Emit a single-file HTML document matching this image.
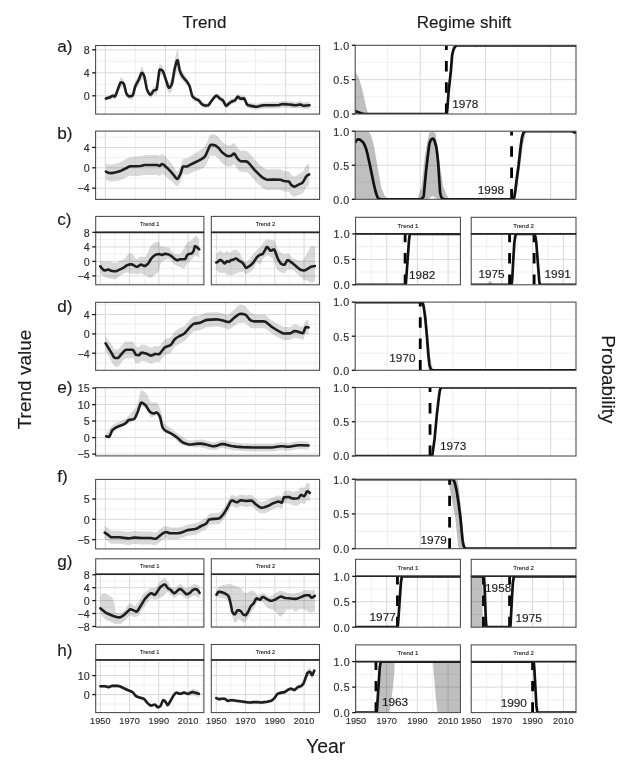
<!DOCTYPE html>
<html><head><meta charset="utf-8"><title>Trend and regime shift</title>
<style>html,body{margin:0;padding:0;background:#fff;}body{width:639px;height:770px;overflow:hidden;}svg{display:block;}</style>
</head><body>
<svg width="639" height="770" viewBox="0 0 639 770" font-family="'Liberation Sans', Arial, sans-serif">
<style>text{stroke:#2a2a2a;stroke-width:0.15px;}</style>
<rect x="0" y="0" width="639" height="770" fill="#fff"/>
<text x="204.5" y="28.3" font-size="17" text-anchor="middle" fill="#1a1a1a">Trend</text>
<text x="464" y="28.4" font-size="17" text-anchor="middle" fill="#1a1a1a">Regime shift</text>
<text x="325.6" y="752.6" font-size="19.4" text-anchor="middle" fill="#1a1a1a">Year</text>
<text transform="translate(31,379.5) rotate(-90)" x="0" y="0" font-size="19" text-anchor="middle" fill="#1a1a1a">Trend value</text>
<text transform="translate(601.9,379.3) rotate(90)" x="0" y="0" font-size="18.9" text-anchor="middle" fill="#1a1a1a">Probability</text>
<text x="57.2" y="51.8" font-size="17.2" fill="#1a1a1a">a)</text>
<text x="57.2" y="138.9" font-size="17.2" fill="#1a1a1a">b)</text>
<text x="57.2" y="225.0" font-size="17.2" fill="#1a1a1a">c)</text>
<text x="57.2" y="311.5" font-size="17.2" fill="#1a1a1a">d)</text>
<text x="57.2" y="393.1" font-size="17.2" fill="#1a1a1a">e)</text>
<text x="57.2" y="481.6" font-size="17.2" fill="#1a1a1a">f)</text>
<text x="57.2" y="567.3" font-size="17.2" fill="#1a1a1a">g)</text>
<text x="57.2" y="655.7" font-size="17.2" fill="#1a1a1a">h)</text>
<rect x="95.6" y="45.5" width="224" height="68.6" fill="#fff"/>
<line x1="135.37" y1="45.5" x2="135.37" y2="114.1" stroke="#e6e6e6" stroke-width="0.6"/>
<line x1="195.51" y1="45.5" x2="195.51" y2="114.1" stroke="#e6e6e6" stroke-width="0.6"/>
<line x1="255.65" y1="45.5" x2="255.65" y2="114.1" stroke="#e6e6e6" stroke-width="0.6"/>
<line x1="315.79" y1="45.5" x2="315.79" y2="114.1" stroke="#e6e6e6" stroke-width="0.6"/>
<line x1="95.6" y1="61.3" x2="319.6" y2="61.3" stroke="#e6e6e6" stroke-width="0.6"/>
<line x1="95.6" y1="84.3" x2="319.6" y2="84.3" stroke="#e6e6e6" stroke-width="0.6"/>
<line x1="95.6" y1="107.3" x2="319.6" y2="107.3" stroke="#e6e6e6" stroke-width="0.6"/>
<line x1="105.3" y1="45.5" x2="105.3" y2="114.1" stroke="#d9d9d9" stroke-width="1.0"/>
<line x1="165.44" y1="45.5" x2="165.44" y2="114.1" stroke="#d9d9d9" stroke-width="1.0"/>
<line x1="225.58" y1="45.5" x2="225.58" y2="114.1" stroke="#d9d9d9" stroke-width="1.0"/>
<line x1="285.72" y1="45.5" x2="285.72" y2="114.1" stroke="#d9d9d9" stroke-width="1.0"/>
<line x1="95.6" y1="49.8" x2="319.6" y2="49.8" stroke="#d9d9d9" stroke-width="1.0"/>
<line x1="95.6" y1="72.8" x2="319.6" y2="72.8" stroke="#d9d9d9" stroke-width="1.0"/>
<line x1="95.6" y1="95.8" x2="319.6" y2="95.8" stroke="#d9d9d9" stroke-width="1.0"/>
<clipPath id="c1"><rect x="95.6" y="45.5" width="224" height="68.6"/></clipPath>
<g clip-path="url(#c1)">
<polygon points="105.9,96.5 110.1,94.8 112.3,93.2 112.8,93.1 114.4,93.4 114.9,93.3 115.5,92.5 119.6,80.0 120.1,78.6 120.7,77.6 121.2,77.1 122.3,78.0 123.3,79.2 123.9,80.3 124.4,82.1 125.9,89.4 126.4,91.3 127.0,92.2 128.2,93.1 128.8,93.3 129.4,93.3 130.6,92.9 132.4,92.0 133.0,90.9 135.4,81.4 136.4,79.0 139.0,73.9 140.8,68.6 141.4,67.1 142.0,66.5 142.5,67.1 143.0,68.2 144.1,70.9 144.6,73.0 146.8,86.2 147.4,88.3 148.6,90.3 149.2,91.0 149.8,91.4 150.4,91.5 151.0,91.1 153.2,87.2 153.7,86.5 156.4,84.9 157.0,83.0 159.2,65.4 159.7,64.0 160.8,64.6 161.9,65.4 162.4,65.9 163.0,66.8 163.5,68.3 165.2,74.3 167.4,80.1 167.9,81.3 168.5,82.1 169.0,82.2 169.6,81.7 170.1,80.9 171.8,77.2 172.4,74.8 174.2,62.7 174.8,59.4 176.4,52.3 176.9,50.6 177.5,49.8 178.0,51.7 179.6,63.2 180.2,66.2 180.7,68.1 181.8,70.4 182.9,72.3 186.8,78.0 189.0,81.7 189.5,83.0 190.1,84.9 191.9,92.2 192.5,93.7 193.5,95.0 195.1,96.3 196.1,96.9 198.8,98.1 199.4,98.6 201.2,101.2 201.8,101.8 203.9,102.8 204.9,103.1 206.0,103.1 208.1,102.8 208.7,102.5 209.2,101.9 210.9,99.2 214.3,94.8 215.4,93.7 216.0,93.4 216.6,93.2 217.1,93.4 217.7,93.8 219.9,96.1 222.6,97.5 223.1,98.1 223.6,99.0 225.2,102.1 225.7,102.7 226.2,103.0 226.8,102.8 229.2,100.5 231.4,99.1 233.1,98.2 234.9,97.6 235.5,97.0 237.3,94.2 237.9,93.8 238.4,94.0 240.1,95.6 240.6,95.8 243.9,95.5 244.5,95.9 245.0,97.0 246.7,101.1 247.2,101.8 249.6,102.7 254.9,103.6 256.6,103.7 257.7,103.6 261.8,102.6 263.5,102.2 273.3,102.1 279.1,101.8 281.7,101.1 282.7,100.9 289.3,101.2 293.9,101.8 296.2,102.0 299.9,101.1 301.0,101.3 302.6,102.0 303.8,102.3 309.5,101.8 309.5,108.7 303.8,109.1 302.6,108.8 301.0,108.1 299.9,107.8 296.2,108.6 293.9,108.4 289.3,107.8 282.7,107.4 281.7,107.5 279.1,108.2 273.3,108.4 263.5,108.4 261.8,108.7 257.7,109.7 256.6,109.7 254.9,109.6 249.6,108.6 247.2,107.6 246.7,107.0 245.0,102.8 244.5,101.7 243.9,101.3 240.6,101.5 240.1,101.3 238.4,99.7 237.9,99.5 237.3,99.8 235.5,102.6 234.9,103.2 233.1,103.8 231.4,104.6 229.2,106.0 226.8,108.2 226.2,108.4 225.7,108.1 225.2,107.4 223.6,104.3 223.1,103.4 222.6,102.8 219.9,101.3 217.7,99.0 217.1,98.5 216.6,98.4 216.0,98.5 215.4,98.8 214.3,99.9 210.9,104.2 209.2,106.8 208.7,107.5 208.1,107.7 206.5,108.0 205.4,108.0 204.4,107.8 203.4,107.4 201.8,106.5 201.2,105.9 199.4,103.3 198.8,102.7 194.6,100.8 193.5,100.1 192.5,99.1 191.9,97.8 190.1,90.8 189.5,89.1 189.0,88.0 187.9,86.3 186.8,84.8 186.2,84.2 184.0,82.4 182.9,81.3 181.8,80.0 180.2,77.6 179.6,76.5 178.6,72.1 178.0,70.6 177.5,70.5 176.9,70.7 176.4,71.7 174.8,77.0 174.2,79.6 172.4,89.6 171.8,91.4 170.7,92.8 170.1,93.2 169.6,93.4 169.0,93.3 168.5,92.5 167.4,89.2 165.7,83.0 163.5,76.6 163.0,75.6 162.4,75.1 160.8,75.0 159.7,75.3 159.2,76.8 158.6,80.2 157.5,89.5 157.0,93.1 156.4,94.6 153.7,94.7 153.2,95.1 151.5,97.2 151.0,97.7 150.4,97.8 149.8,97.4 149.2,96.6 148.0,94.3 146.8,91.6 144.6,81.7 144.1,80.4 143.0,79.2 142.5,79.0 141.4,79.5 140.8,80.5 139.0,84.9 136.4,88.8 135.4,90.6 134.8,92.4 133.6,97.0 133.0,98.9 132.4,99.6 130.6,99.7 129.4,99.4 128.8,99.1 127.6,97.9 127.0,97.1 126.4,96.0 124.4,89.0 123.9,87.7 123.3,87.1 122.8,87.1 121.8,87.2 120.7,87.6 120.1,88.2 119.0,90.5 115.5,99.0 114.9,99.5 113.3,98.7 112.8,98.5 112.3,98.6 110.1,99.8 105.9,100.7" fill="#000" fill-opacity="0.15"/>
<polyline points="105.9,98.6 110.1,97.3 112.3,95.9 112.8,95.8 113.3,95.9 114.9,96.4 115.5,95.7 119.6,84.6 120.1,83.4 120.7,82.6 121.2,82.3 122.3,82.5 123.3,83.1 123.9,84.0 124.4,85.6 125.9,91.9 126.4,93.6 127.0,94.6 128.2,95.9 128.8,96.2 129.4,96.4 130.6,96.3 132.4,95.8 133.0,94.9 133.6,92.9 134.8,87.9 135.4,86.0 136.4,83.9 139.0,79.4 140.8,74.5 141.4,73.3 142.0,72.8 142.5,73.1 143.0,73.7 144.1,75.7 144.6,77.4 146.8,88.9 147.4,90.6 148.6,92.9 149.2,93.8 149.8,94.4 150.4,94.6 151.0,94.4 151.5,93.7 153.2,91.1 153.7,90.6 156.4,89.8 157.0,88.0 159.2,71.1 159.7,69.6 160.8,69.8 161.9,70.2 162.4,70.5 163.0,71.2 164.1,74.1 167.9,86.2 168.5,87.3 169.0,87.8 169.6,87.6 170.1,87.1 171.2,85.4 171.8,84.3 172.4,82.2 174.2,71.1 174.8,68.2 176.4,62.0 176.9,60.7 177.5,60.1 178.0,61.2 179.6,69.8 180.2,71.9 181.3,74.3 182.3,76.0 183.4,77.6 186.8,81.4 189.0,84.9 189.5,86.0 190.1,87.8 191.9,95.0 192.5,96.4 193.5,97.5 194.6,98.3 196.1,99.2 198.8,100.4 199.4,101.0 201.2,103.6 201.8,104.1 203.4,105.0 204.4,105.4 205.4,105.6 206.5,105.5 208.1,105.3 208.7,105.0 209.2,104.4 210.9,101.7 214.3,97.3 215.4,96.2 216.0,95.9 216.6,95.8 217.1,96.0 217.7,96.4 219.9,98.7 222.6,100.1 223.1,100.7 223.6,101.6 225.2,104.7 225.7,105.4 226.2,105.7 226.8,105.5 229.2,103.3 231.4,101.8 233.1,101.0 234.9,100.4 235.5,99.8 237.3,97.0 237.9,96.7 238.4,96.9 240.1,98.5 240.6,98.7 243.9,98.4 244.5,98.8 245.0,99.9 246.7,104.0 247.2,104.7 249.6,105.6 254.9,106.6 256.6,106.7 257.7,106.6 261.8,105.6 263.5,105.3 273.3,105.3 279.1,105.0 281.7,104.3 282.7,104.1 289.3,104.5 293.9,105.1 296.2,105.3 299.9,104.4 301.0,104.7 302.6,105.4 303.8,105.7 309.5,105.3" fill="none" stroke="#1e1e1e" stroke-width="2.6" stroke-linejoin="round" stroke-linecap="round"/>
</g>
<rect x="95.6" y="45.5" width="224" height="68.6" fill="none" stroke="#474747" stroke-width="1.05"/>
<line x1="92.2" y1="49.8" x2="95.6" y2="49.8" stroke="#151515" stroke-width="1.3"/>
<text x="89.6" y="54.1" font-size="10.7" text-anchor="end" fill="#2e2e2e">8</text>
<line x1="92.2" y1="72.8" x2="95.6" y2="72.8" stroke="#151515" stroke-width="1.3"/>
<text x="89.6" y="77.1" font-size="10.7" text-anchor="end" fill="#2e2e2e">4</text>
<line x1="92.2" y1="95.8" x2="95.6" y2="95.8" stroke="#151515" stroke-width="1.3"/>
<text x="89.6" y="100.1" font-size="10.7" text-anchor="end" fill="#2e2e2e">0</text>
<rect x="95.6" y="131.1" width="224" height="68.3" fill="#fff"/>
<line x1="135.37" y1="131.1" x2="135.37" y2="199.4" stroke="#e6e6e6" stroke-width="0.6"/>
<line x1="195.51" y1="131.1" x2="195.51" y2="199.4" stroke="#e6e6e6" stroke-width="0.6"/>
<line x1="255.65" y1="131.1" x2="255.65" y2="199.4" stroke="#e6e6e6" stroke-width="0.6"/>
<line x1="315.79" y1="131.1" x2="315.79" y2="199.4" stroke="#e6e6e6" stroke-width="0.6"/>
<line x1="95.6" y1="137.26" x2="319.6" y2="137.26" stroke="#e6e6e6" stroke-width="0.6"/>
<line x1="95.6" y1="157.62" x2="319.6" y2="157.62" stroke="#e6e6e6" stroke-width="0.6"/>
<line x1="95.6" y1="177.98" x2="319.6" y2="177.98" stroke="#e6e6e6" stroke-width="0.6"/>
<line x1="95.6" y1="198.34" x2="319.6" y2="198.34" stroke="#e6e6e6" stroke-width="0.6"/>
<line x1="105.3" y1="131.1" x2="105.3" y2="199.4" stroke="#d9d9d9" stroke-width="1.0"/>
<line x1="165.44" y1="131.1" x2="165.44" y2="199.4" stroke="#d9d9d9" stroke-width="1.0"/>
<line x1="225.58" y1="131.1" x2="225.58" y2="199.4" stroke="#d9d9d9" stroke-width="1.0"/>
<line x1="285.72" y1="131.1" x2="285.72" y2="199.4" stroke="#d9d9d9" stroke-width="1.0"/>
<line x1="95.6" y1="147.44" x2="319.6" y2="147.44" stroke="#d9d9d9" stroke-width="1.0"/>
<line x1="95.6" y1="167.8" x2="319.6" y2="167.8" stroke="#d9d9d9" stroke-width="1.0"/>
<line x1="95.6" y1="188.16" x2="319.6" y2="188.16" stroke="#d9d9d9" stroke-width="1.0"/>
<clipPath id="c2"><rect x="95.6" y="131.1" width="224" height="68.3"/></clipPath>
<g clip-path="url(#c2)">
<polygon points="105.9,163.4 108.9,164.6 110.1,164.7 112.4,164.4 116.4,163.6 118.8,162.7 121.8,161.5 126.6,158.8 128.9,157.4 130.0,156.9 137.1,156.5 140.5,156.2 141.7,156.0 143.5,155.4 144.7,155.1 157.0,154.9 157.6,155.0 159.2,155.6 159.7,155.8 160.3,155.5 161.3,154.3 161.8,154.0 162.3,154.1 163.4,154.7 166.0,157.1 167.8,159.0 171.4,163.1 176.0,170.5 176.6,171.2 177.2,171.7 177.7,171.5 178.8,169.9 180.5,166.4 182.6,159.4 183.2,158.8 186.8,158.3 187.9,157.9 190.7,155.9 199.2,150.7 202.6,148.5 203.7,147.6 204.8,146.5 205.4,145.7 208.1,139.6 209.7,135.5 210.3,134.6 210.8,134.2 214.5,134.5 215.0,134.6 216.0,135.1 218.6,137.3 221.4,140.9 222.6,142.1 225.4,144.3 227.1,145.2 228.3,145.4 231.0,145.1 231.6,144.8 233.4,143.1 234.0,142.9 234.6,143.2 237.0,147.2 238.6,149.0 239.6,150.0 240.6,150.5 246.3,150.8 246.9,151.0 247.4,151.4 250.2,154.1 254.7,159.6 259.9,164.8 262.9,167.5 265.2,168.7 266.9,169.4 268.6,169.5 274.8,169.3 280.3,169.6 281.3,169.8 283.9,170.9 288.7,171.4 289.3,171.7 290.9,174.3 291.4,174.9 293.1,176.1 294.1,176.5 294.7,176.4 295.8,175.9 298.0,174.4 300.9,173.0 302.6,171.9 303.1,171.2 303.7,170.2 305.9,165.8 307.0,164.7 309.2,163.3 309.2,185.6 307.0,186.7 306.5,187.1 305.9,187.7 303.7,191.8 303.1,192.7 302.6,193.3 300.9,194.2 298.0,195.3 295.8,196.4 294.1,196.8 293.1,196.5 291.4,195.3 290.9,194.7 289.3,192.1 288.7,191.7 283.9,191.2 281.3,190.2 280.3,189.9 273.7,189.7 268.0,190.0 266.3,189.7 264.6,189.0 262.9,188.1 259.3,185.0 254.7,180.5 249.6,174.6 248.0,173.0 246.9,172.2 246.3,172.0 241.2,171.9 240.1,171.7 239.1,171.0 237.0,168.6 235.2,165.4 234.6,164.6 234.0,164.2 233.4,164.5 231.6,166.2 231.0,166.5 228.3,166.8 227.7,166.7 226.6,166.4 224.9,165.3 222.0,163.0 218.6,158.7 216.0,156.5 215.0,156.0 214.5,155.8 211.4,155.6 210.8,155.6 210.3,155.9 209.7,156.7 208.1,160.5 205.9,165.0 204.8,166.7 203.7,167.6 202.6,168.3 199.2,169.8 190.7,173.1 187.9,174.5 186.8,174.7 183.2,174.3 182.6,174.8 180.5,181.4 178.8,184.5 178.3,185.3 177.7,185.8 177.2,186.1 176.6,186.1 176.0,185.7 174.2,183.9 171.4,181.5 168.4,178.5 166.6,176.9 163.4,174.4 162.3,174.0 161.8,174.0 161.3,174.3 160.3,175.7 159.7,176.1 159.2,176.0 157.6,175.2 157.0,175.1 144.7,174.9 143.5,175.1 141.7,175.6 138.8,175.9 135.4,175.9 130.0,175.7 128.9,176.1 126.6,177.2 121.2,179.7 117.0,180.9 113.5,181.3 111.3,181.5 109.5,181.4 108.3,181.0 105.9,179.8" fill="#000" fill-opacity="0.15"/>
<polyline points="105.9,171.6 108.3,172.7 109.5,173.0 110.7,173.1 113.0,172.9 117.0,172.1 121.2,170.7 126.6,168.0 128.9,166.7 130.0,166.3 136.5,166.3 139.9,166.0 141.7,165.8 143.5,165.2 144.7,165.0 157.0,165.0 157.6,165.1 159.2,165.8 159.7,165.9 160.3,165.6 161.3,164.3 161.8,164.0 162.3,164.1 163.4,164.6 167.2,167.9 170.8,171.6 174.2,175.7 176.0,178.1 176.6,178.7 177.2,178.9 177.7,178.7 178.3,178.1 178.8,177.2 180.5,173.9 182.6,167.1 183.2,166.5 186.8,166.5 187.9,166.2 190.7,164.5 199.2,160.3 202.6,158.4 203.7,157.6 204.8,156.6 205.9,154.8 209.7,146.1 210.3,145.2 210.8,144.9 211.4,144.9 214.5,145.1 215.0,145.3 216.0,145.8 218.6,148.0 222.0,152.3 224.9,154.6 226.6,155.7 227.7,156.0 228.3,156.1 231.0,155.8 231.6,155.5 233.4,153.8 234.0,153.5 234.6,153.9 235.2,154.7 237.0,157.9 238.6,159.7 239.6,160.7 240.6,161.2 245.8,161.4 246.9,161.6 248.0,162.4 249.6,164.0 254.7,170.1 259.3,174.7 262.9,177.8 264.6,178.7 266.3,179.4 268.0,179.8 273.7,179.5 280.3,179.8 281.3,180.0 283.9,181.0 288.7,181.5 289.3,181.9 290.9,184.5 291.4,185.1 293.1,186.3 294.1,186.6 294.7,186.6 295.8,186.1 298.0,184.9 300.9,183.6 302.6,182.6 303.1,181.9 303.7,181.0 305.9,176.8 307.0,175.7 309.2,174.4" fill="none" stroke="#1e1e1e" stroke-width="2.6" stroke-linejoin="round" stroke-linecap="round"/>
</g>
<rect x="95.6" y="131.1" width="224" height="68.3" fill="none" stroke="#474747" stroke-width="1.05"/>
<line x1="92.2" y1="147.44" x2="95.6" y2="147.44" stroke="#151515" stroke-width="1.3"/>
<text x="89.6" y="151.74" font-size="10.7" text-anchor="end" fill="#2e2e2e">4</text>
<line x1="92.2" y1="167.8" x2="95.6" y2="167.8" stroke="#151515" stroke-width="1.3"/>
<text x="89.6" y="172.1" font-size="10.7" text-anchor="end" fill="#2e2e2e">0</text>
<line x1="92.2" y1="188.16" x2="95.6" y2="188.16" stroke="#151515" stroke-width="1.3"/>
<text x="89.6" y="192.46" font-size="10.7" text-anchor="end" fill="#2e2e2e">−4</text>
<rect x="95.7" y="216.4" width="108.2" height="16" fill="#fff" stroke="#474747" stroke-width="1.05"/>
<text x="149.8" y="226.22" font-size="5.7" text-anchor="middle" fill="#1a1a1a" style="stroke-width:0.12px">Trend 1</text>
<rect x="95.7" y="232.4" width="108.2" height="52.4" fill="#fff"/>
<line x1="114.93" y1="232.4" x2="114.93" y2="284.8" stroke="#e6e6e6" stroke-width="0.6"/>
<line x1="144.19" y1="232.4" x2="144.19" y2="284.8" stroke="#e6e6e6" stroke-width="0.6"/>
<line x1="173.45" y1="232.4" x2="173.45" y2="284.8" stroke="#e6e6e6" stroke-width="0.6"/>
<line x1="202.71" y1="232.4" x2="202.71" y2="284.8" stroke="#e6e6e6" stroke-width="0.6"/>
<line x1="95.7" y1="239.62" x2="203.9" y2="239.62" stroke="#e6e6e6" stroke-width="0.6"/>
<line x1="95.7" y1="254.14" x2="203.9" y2="254.14" stroke="#e6e6e6" stroke-width="0.6"/>
<line x1="95.7" y1="268.66" x2="203.9" y2="268.66" stroke="#e6e6e6" stroke-width="0.6"/>
<line x1="95.7" y1="283.18" x2="203.9" y2="283.18" stroke="#e6e6e6" stroke-width="0.6"/>
<line x1="100.3" y1="232.4" x2="100.3" y2="284.8" stroke="#d9d9d9" stroke-width="1.0"/>
<line x1="129.56" y1="232.4" x2="129.56" y2="284.8" stroke="#d9d9d9" stroke-width="1.0"/>
<line x1="158.82" y1="232.4" x2="158.82" y2="284.8" stroke="#d9d9d9" stroke-width="1.0"/>
<line x1="188.08" y1="232.4" x2="188.08" y2="284.8" stroke="#d9d9d9" stroke-width="1.0"/>
<line x1="95.7" y1="246.88" x2="203.9" y2="246.88" stroke="#d9d9d9" stroke-width="1.0"/>
<line x1="95.7" y1="261.4" x2="203.9" y2="261.4" stroke="#d9d9d9" stroke-width="1.0"/>
<line x1="95.7" y1="275.92" x2="203.9" y2="275.92" stroke="#d9d9d9" stroke-width="1.0"/>
<clipPath id="c3"><rect x="95.7" y="232.4" width="108.2" height="52.4"/></clipPath>
<g clip-path="url(#c3)">
<polygon points="100.3,260.6 102.8,261.7 104.0,262.0 105.1,262.0 108.3,261.6 109.5,261.6 110.7,261.8 114.1,262.9 114.9,263.0 115.8,262.9 116.9,262.5 119.3,261.2 122.6,259.7 124.3,258.8 125.2,258.0 127.8,254.8 129.6,253.4 130.4,253.1 131.0,253.2 131.8,253.7 133.7,255.5 134.2,256.2 135.6,258.6 136.2,259.1 136.7,259.2 137.3,259.0 139.7,257.0 140.8,256.4 141.7,256.5 143.3,257.3 144.2,257.4 144.7,257.1 145.3,256.6 146.3,255.0 148.0,252.1 149.6,248.0 150.7,246.2 151.8,244.8 153.5,243.3 154.6,242.5 156.0,242.1 158.0,241.8 158.8,241.8 159.1,242.0 160.2,245.2 160.7,246.2 161.8,246.6 163.0,246.8 168.2,247.4 169.3,247.6 170.2,248.5 172.4,252.0 174.2,253.3 175.4,253.9 176.2,254.1 177.6,254.1 179.1,253.9 180.5,253.5 181.0,252.9 181.9,251.6 183.6,248.4 186.0,244.4 187.1,242.9 188.5,241.7 191.2,240.3 192.3,239.5 195.0,236.0 195.5,235.8 196.4,236.1 197.2,237.0 199.2,239.5 199.2,258.3 197.2,256.4 196.4,255.7 195.5,255.5 195.0,255.7 194.4,256.3 192.3,259.2 188.7,262.0 187.6,263.0 186.8,264.2 184.9,267.8 184.4,268.4 183.8,268.7 182.4,268.3 180.5,267.3 177.1,266.0 175.6,265.2 172.7,263.0 170.2,259.9 169.3,259.3 168.5,259.2 167.1,259.4 163.8,260.4 162.1,261.4 160.7,263.0 160.2,264.9 159.1,270.8 158.8,271.5 158.5,271.8 157.7,272.6 155.2,274.3 152.7,276.8 151.0,277.7 149.9,278.0 149.3,277.9 149.1,277.7 147.7,276.1 146.6,275.6 143.9,274.8 142.0,273.6 141.4,273.4 140.3,273.5 137.5,274.2 136.4,274.3 135.9,274.2 133.9,273.4 133.1,273.4 130.7,273.7 130.1,273.7 128.7,272.5 128.4,272.4 127.8,272.3 125.8,272.8 122.9,274.0 119.3,276.3 116.9,278.5 115.8,279.2 114.9,279.4 113.8,279.3 111.8,279.0 108.1,278.2 104.8,277.1 104.0,276.7 103.1,276.0 100.3,273.4" fill="#000" fill-opacity="0.15"/>
<polyline points="100.3,266.3 101.9,268.4 103.5,270.0 104.3,270.4 105.1,270.4 107.3,269.7 108.3,269.6 109.2,269.8 111.1,270.8 113.8,271.3 115.5,271.3 116.9,270.9 122.2,268.4 124.0,267.4 126.9,265.2 129.5,264.4 130.8,264.3 132.5,264.6 133.3,265.0 135.5,266.4 136.6,266.8 137.2,266.8 137.7,266.6 140.0,265.0 140.8,264.6 141.7,264.7 143.6,265.8 144.2,265.9 144.8,266.0 145.3,265.8 146.4,265.1 148.0,263.7 148.9,262.5 150.9,259.0 152.1,257.6 154.1,255.8 155.5,254.8 156.0,254.5 158.0,254.2 159.7,254.1 162.0,255.0 162.6,254.9 164.5,253.8 165.9,253.9 167.5,254.2 168.9,254.6 170.2,255.3 172.1,256.6 174.3,258.6 176.0,259.7 176.8,260.1 177.7,260.1 180.4,259.2 184.9,259.2 185.1,259.1 185.7,258.3 186.8,255.7 187.4,254.8 188.2,254.3 191.3,253.6 192.1,253.0 192.9,252.1 193.5,251.1 194.6,247.1 194.8,246.4 195.1,246.2 195.7,246.3 196.5,246.8 197.8,248.0 199.2,249.4" fill="none" stroke="#1e1e1e" stroke-width="2.6" stroke-linejoin="round" stroke-linecap="round"/>
</g>
<rect x="95.7" y="232.4" width="108.2" height="52.4" fill="none" stroke="#474747" stroke-width="1.05"/>
<line x1="95.7" y1="232.4" x2="203.9" y2="232.4" stroke="#262626" stroke-width="1.6"/>
<line x1="92.3" y1="232.36" x2="95.7" y2="232.36" stroke="#151515" stroke-width="1.3"/>
<text x="89.7" y="236.66" font-size="10.7" text-anchor="end" fill="#2e2e2e">8</text>
<line x1="92.3" y1="246.88" x2="95.7" y2="246.88" stroke="#151515" stroke-width="1.3"/>
<text x="89.7" y="251.18" font-size="10.7" text-anchor="end" fill="#2e2e2e">4</text>
<line x1="92.3" y1="261.4" x2="95.7" y2="261.4" stroke="#151515" stroke-width="1.3"/>
<text x="89.7" y="265.7" font-size="10.7" text-anchor="end" fill="#2e2e2e">0</text>
<line x1="92.3" y1="275.92" x2="95.7" y2="275.92" stroke="#151515" stroke-width="1.3"/>
<text x="89.7" y="280.22" font-size="10.7" text-anchor="end" fill="#2e2e2e">−4</text>
<rect x="211.3" y="216.4" width="108.2" height="16" fill="#fff" stroke="#474747" stroke-width="1.05"/>
<text x="265.4" y="226.22" font-size="5.7" text-anchor="middle" fill="#1a1a1a" style="stroke-width:0.12px">Trend 2</text>
<rect x="211.3" y="232.4" width="108.2" height="52.4" fill="#fff"/>
<line x1="230.93" y1="232.4" x2="230.93" y2="284.8" stroke="#e6e6e6" stroke-width="0.6"/>
<line x1="260.19" y1="232.4" x2="260.19" y2="284.8" stroke="#e6e6e6" stroke-width="0.6"/>
<line x1="289.45" y1="232.4" x2="289.45" y2="284.8" stroke="#e6e6e6" stroke-width="0.6"/>
<line x1="318.71" y1="232.4" x2="318.71" y2="284.8" stroke="#e6e6e6" stroke-width="0.6"/>
<line x1="211.3" y1="239.62" x2="319.5" y2="239.62" stroke="#e6e6e6" stroke-width="0.6"/>
<line x1="211.3" y1="254.14" x2="319.5" y2="254.14" stroke="#e6e6e6" stroke-width="0.6"/>
<line x1="211.3" y1="268.66" x2="319.5" y2="268.66" stroke="#e6e6e6" stroke-width="0.6"/>
<line x1="211.3" y1="283.18" x2="319.5" y2="283.18" stroke="#e6e6e6" stroke-width="0.6"/>
<line x1="216.3" y1="232.4" x2="216.3" y2="284.8" stroke="#d9d9d9" stroke-width="1.0"/>
<line x1="245.56" y1="232.4" x2="245.56" y2="284.8" stroke="#d9d9d9" stroke-width="1.0"/>
<line x1="274.82" y1="232.4" x2="274.82" y2="284.8" stroke="#d9d9d9" stroke-width="1.0"/>
<line x1="304.08" y1="232.4" x2="304.08" y2="284.8" stroke="#d9d9d9" stroke-width="1.0"/>
<line x1="211.3" y1="246.88" x2="319.5" y2="246.88" stroke="#d9d9d9" stroke-width="1.0"/>
<line x1="211.3" y1="261.4" x2="319.5" y2="261.4" stroke="#d9d9d9" stroke-width="1.0"/>
<line x1="211.3" y1="275.92" x2="319.5" y2="275.92" stroke="#d9d9d9" stroke-width="1.0"/>
<clipPath id="c4"><rect x="211.3" y="232.4" width="108.2" height="52.4"/></clipPath>
<g clip-path="url(#c4)">
<polygon points="216.3,254.1 219.1,251.2 220.0,250.6 220.6,250.4 221.1,250.4 221.4,250.6 223.1,252.8 223.6,253.1 224.5,252.8 226.1,251.2 226.7,250.8 227.2,250.9 228.8,252.4 229.1,252.6 229.6,252.7 230.2,252.5 231.1,252.0 234.3,249.7 235.2,249.4 236.0,249.5 237.1,250.1 239.1,252.1 240.0,253.4 242.0,257.4 244.0,260.4 245.2,261.7 245.7,262.0 246.3,262.0 247.3,261.5 249.2,259.8 252.7,254.9 256.3,250.4 257.4,249.4 259.6,248.0 260.5,247.2 262.7,243.6 265.2,240.6 266.1,239.9 266.9,239.5 269.2,239.6 272.6,240.1 273.7,240.6 274.8,241.4 275.4,242.6 276.9,247.3 277.4,248.5 278.6,250.2 279.4,251.2 280.2,252.0 281.7,253.1 283.2,253.9 284.3,254.1 285.2,254.0 287.4,253.2 288.3,253.2 289.2,253.9 291.2,256.8 291.8,257.4 292.6,257.9 294.8,259.0 298.5,260.5 299.9,260.9 301.3,261.1 301.9,260.9 302.4,260.5 304.7,257.5 309.8,248.2 310.9,246.6 311.4,246.2 312.0,246.2 313.2,246.4 315.2,247.0 315.2,280.8 312.9,282.4 312.0,282.7 311.4,282.7 310.6,282.4 307.9,280.8 304.1,279.9 303.2,279.3 301.0,276.8 296.2,273.1 293.4,270.3 292.3,269.7 291.8,269.6 287.7,269.6 286.9,270.4 285.2,272.8 284.6,273.2 284.3,273.3 283.5,273.2 282.6,272.9 279.4,271.4 278.0,270.4 277.2,269.6 276.9,269.1 274.8,263.0 273.4,260.2 272.6,258.9 271.5,257.8 269.8,256.4 268.6,255.8 267.5,255.5 266.9,255.5 266.1,255.9 264.4,257.5 262.7,259.6 261.0,263.1 260.5,263.8 260.2,263.9 259.6,263.9 257.1,263.0 256.6,263.1 256.3,263.3 255.5,264.6 253.8,268.2 253.0,269.6 251.6,271.0 250.1,272.2 248.6,273.2 246.5,274.2 246.0,274.3 245.4,274.0 243.5,271.9 242.9,271.5 242.3,271.5 240.3,271.9 238.3,272.6 235.7,273.7 232.2,274.8 230.2,275.1 228.5,275.1 226.7,274.6 224.7,272.9 223.9,272.4 223.1,272.5 221.1,273.3 220.3,273.2 219.1,272.5 216.3,269.6" fill="#000" fill-opacity="0.15"/>
<polyline points="216.3,262.5 217.8,261.9 219.5,260.3 220.4,260.0 220.9,260.1 221.7,260.7 223.0,261.8 224.1,263.2 224.6,263.5 225.2,263.1 226.7,261.4 227.3,261.3 228.9,261.9 229.4,261.6 230.8,260.2 233.6,259.4 235.5,258.6 236.3,258.5 237.2,259.1 238.8,260.6 241.4,262.0 242.5,262.8 244.1,264.9 245.5,267.4 246.0,267.9 246.5,267.8 249.7,265.9 251.7,264.3 254.0,261.6 256.5,257.7 258.2,256.0 259.6,255.0 261.9,254.3 262.8,253.8 265.2,249.8 266.3,247.5 266.6,247.2 266.9,247.0 267.4,247.2 267.9,247.6 268.9,248.8 270.0,250.4 270.6,250.8 271.4,250.6 273.4,249.5 273.9,249.4 274.2,249.5 274.8,250.5 277.7,258.3 278.6,260.2 280.6,263.2 281.4,263.9 282.6,264.5 283.7,264.8 284.6,264.8 285.1,264.1 287.0,260.5 287.5,260.2 288.1,260.3 289.2,260.8 292.3,263.1 297.8,267.7 300.1,269.5 301.3,270.0 303.8,270.5 304.7,270.4 305.5,270.1 310.8,266.8 312.2,266.5 314.9,266.0" fill="none" stroke="#1e1e1e" stroke-width="2.6" stroke-linejoin="round" stroke-linecap="round"/>
</g>
<rect x="211.3" y="232.4" width="108.2" height="52.4" fill="none" stroke="#474747" stroke-width="1.05"/>
<line x1="211.3" y1="232.4" x2="319.5" y2="232.4" stroke="#262626" stroke-width="1.6"/>
<rect x="95.6" y="302.3" width="224" height="68" fill="#fff"/>
<line x1="135.37" y1="302.3" x2="135.37" y2="370.3" stroke="#e6e6e6" stroke-width="0.6"/>
<line x1="195.51" y1="302.3" x2="195.51" y2="370.3" stroke="#e6e6e6" stroke-width="0.6"/>
<line x1="255.65" y1="302.3" x2="255.65" y2="370.3" stroke="#e6e6e6" stroke-width="0.6"/>
<line x1="315.79" y1="302.3" x2="315.79" y2="370.3" stroke="#e6e6e6" stroke-width="0.6"/>
<line x1="95.6" y1="304.92" x2="319.6" y2="304.92" stroke="#e6e6e6" stroke-width="0.6"/>
<line x1="95.6" y1="324.24" x2="319.6" y2="324.24" stroke="#e6e6e6" stroke-width="0.6"/>
<line x1="95.6" y1="343.56" x2="319.6" y2="343.56" stroke="#e6e6e6" stroke-width="0.6"/>
<line x1="95.6" y1="362.88" x2="319.6" y2="362.88" stroke="#e6e6e6" stroke-width="0.6"/>
<line x1="105.3" y1="302.3" x2="105.3" y2="370.3" stroke="#d9d9d9" stroke-width="1.0"/>
<line x1="165.44" y1="302.3" x2="165.44" y2="370.3" stroke="#d9d9d9" stroke-width="1.0"/>
<line x1="225.58" y1="302.3" x2="225.58" y2="370.3" stroke="#d9d9d9" stroke-width="1.0"/>
<line x1="285.72" y1="302.3" x2="285.72" y2="370.3" stroke="#d9d9d9" stroke-width="1.0"/>
<line x1="95.6" y1="314.58" x2="319.6" y2="314.58" stroke="#d9d9d9" stroke-width="1.0"/>
<line x1="95.6" y1="333.9" x2="319.6" y2="333.9" stroke="#d9d9d9" stroke-width="1.0"/>
<line x1="95.6" y1="353.22" x2="319.6" y2="353.22" stroke="#d9d9d9" stroke-width="1.0"/>
<clipPath id="c5"><rect x="95.6" y="302.3" width="224" height="68"/></clipPath>
<g clip-path="url(#c5)">
<polygon points="105.6,336.1 111.9,345.3 113.5,348.0 114.7,349.2 115.2,349.4 117.6,349.4 118.2,349.3 119.3,348.2 121.0,346.0 123.9,342.9 125.1,341.8 125.7,341.5 126.3,341.4 132.7,341.6 133.2,341.9 133.8,342.8 135.4,346.0 136.0,346.5 137.8,346.9 139.0,347.0 139.6,346.6 140.8,345.0 141.4,344.6 143.6,344.8 145.9,345.3 149.5,347.1 150.7,347.5 151.3,347.6 152.4,347.3 154.7,346.0 155.7,346.0 158.8,346.2 159.4,346.0 159.9,345.5 163.6,340.8 164.6,339.7 165.1,339.3 166.3,338.8 169.7,337.7 170.8,337.0 171.9,335.7 174.0,332.4 175.1,331.1 176.2,330.3 177.9,329.2 179.6,328.3 182.6,326.9 184.4,325.8 186.1,324.1 189.5,320.1 192.3,317.3 193.4,316.5 194.6,316.1 199.7,315.5 201.4,314.8 204.9,313.2 206.1,312.8 207.2,312.6 210.2,312.4 214.5,312.3 217.5,312.3 222.8,313.5 225.7,314.4 227.4,314.6 228.6,314.6 229.2,314.4 230.4,313.6 234.0,309.7 238.2,305.8 239.4,305.0 240.6,304.6 243.2,305.3 244.8,305.9 245.4,306.3 246.6,307.5 249.6,311.8 250.8,312.8 252.0,313.5 253.8,314.3 255.6,314.7 264.1,314.7 265.2,315.0 266.8,316.0 270.7,319.4 275.3,322.5 278.8,324.6 282.2,326.3 283.4,326.7 284.5,326.9 290.2,326.9 291.3,326.3 293.6,324.8 294.7,324.5 296.5,324.8 300.5,326.2 301.7,326.4 302.9,326.4 303.5,325.7 305.3,320.7 305.9,320.0 308.6,320.2 308.6,334.7 305.9,334.0 305.3,334.6 303.5,339.2 302.9,339.8 301.7,339.6 296.5,337.9 294.7,337.7 293.6,338.0 291.3,339.5 290.2,340.0 283.9,340.1 282.8,339.8 281.7,339.3 278.2,337.5 275.9,336.2 270.7,332.7 266.8,329.4 265.2,328.4 264.1,328.2 255.6,328.2 253.8,328.4 251.4,328.0 250.2,327.7 249.6,327.2 246.6,324.0 245.4,323.1 244.8,322.9 243.2,322.8 240.0,322.9 238.8,323.2 237.6,323.8 234.0,326.2 231.0,328.6 229.8,329.3 229.2,329.5 228.6,329.5 227.4,329.2 225.1,328.3 222.8,327.6 219.3,326.8 216.9,326.6 213.3,326.7 206.7,327.3 204.9,327.9 201.4,329.6 199.7,330.3 194.6,331.1 193.4,331.5 192.3,332.4 189.5,335.3 186.1,339.4 184.4,341.1 182.6,342.3 179.0,344.1 175.6,346.2 174.5,347.3 174.0,348.0 171.9,351.3 170.8,352.7 169.7,353.4 166.3,354.5 165.1,355.1 164.6,355.5 163.6,356.6 159.9,361.4 159.4,361.9 158.8,362.1 155.7,362.0 154.7,362.0 152.4,363.3 151.3,363.7 150.7,363.6 149.5,363.2 145.9,361.5 143.6,361.1 141.4,360.9 140.8,361.3 139.6,362.9 139.0,363.3 137.8,363.2 136.0,362.9 135.4,362.4 133.8,359.3 133.2,358.4 132.7,358.1 126.3,358.3 125.7,358.4 125.1,358.7 123.9,359.8 121.0,363.1 119.3,365.4 118.2,366.5 117.6,366.7 115.2,366.7 114.7,366.5 114.1,366.0 113.5,365.1 105.6,350.7" fill="#000" fill-opacity="0.15"/>
<polyline points="105.6,343.4 111.9,353.6 113.5,356.6 114.1,357.3 114.7,357.9 115.2,358.0 117.6,358.0 118.2,357.9 119.3,356.8 121.0,354.6 123.9,351.3 125.1,350.3 125.7,350.0 126.3,349.8 132.7,349.8 133.2,350.2 133.8,351.0 135.4,354.2 136.0,354.7 137.8,355.1 139.0,355.2 139.6,354.8 140.8,353.1 141.4,352.7 143.6,352.9 145.9,353.4 149.5,355.2 150.7,355.6 151.3,355.6 152.4,355.3 154.7,354.0 155.7,354.0 158.8,354.2 159.4,354.0 159.9,353.5 163.6,348.7 164.6,347.6 165.1,347.2 166.3,346.7 169.7,345.5 170.8,344.8 171.9,343.5 174.0,340.2 175.1,338.9 176.2,338.0 177.9,337.0 179.6,336.0 182.6,334.6 184.4,333.5 186.1,331.7 189.5,327.7 192.3,324.8 193.4,324.0 194.6,323.6 199.7,322.9 201.4,322.2 204.9,320.5 206.1,320.1 207.2,319.9 211.4,319.6 216.3,319.4 218.1,319.5 222.8,320.5 226.9,321.8 228.0,322.0 229.2,321.9 229.8,321.7 231.0,320.8 234.0,317.9 238.2,314.7 239.4,314.0 240.6,313.8 243.2,314.0 244.8,314.4 245.4,314.7 246.6,315.8 249.0,318.8 250.2,320.0 250.8,320.4 252.6,321.0 254.4,321.4 264.1,321.4 265.2,321.7 266.8,322.7 270.7,326.1 275.9,329.5 278.2,330.9 281.7,332.7 282.8,333.2 283.9,333.5 290.2,333.4 291.3,332.9 293.6,331.4 294.7,331.1 296.5,331.3 301.1,332.8 302.9,333.1 303.5,332.5 305.3,327.7 305.9,327.0 308.6,327.5" fill="none" stroke="#1e1e1e" stroke-width="2.6" stroke-linejoin="round" stroke-linecap="round"/>
</g>
<rect x="95.6" y="302.3" width="224" height="68" fill="none" stroke="#474747" stroke-width="1.05"/>
<line x1="92.2" y1="314.58" x2="95.6" y2="314.58" stroke="#151515" stroke-width="1.3"/>
<text x="89.6" y="318.88" font-size="10.7" text-anchor="end" fill="#2e2e2e">4</text>
<line x1="92.2" y1="333.9" x2="95.6" y2="333.9" stroke="#151515" stroke-width="1.3"/>
<text x="89.6" y="338.2" font-size="10.7" text-anchor="end" fill="#2e2e2e">0</text>
<line x1="92.2" y1="353.22" x2="95.6" y2="353.22" stroke="#151515" stroke-width="1.3"/>
<text x="89.6" y="357.52" font-size="10.7" text-anchor="end" fill="#2e2e2e">−4</text>
<rect x="95.6" y="387.6" width="224" height="68.3" fill="#fff"/>
<line x1="135.37" y1="387.6" x2="135.37" y2="455.9" stroke="#e6e6e6" stroke-width="0.6"/>
<line x1="195.51" y1="387.6" x2="195.51" y2="455.9" stroke="#e6e6e6" stroke-width="0.6"/>
<line x1="255.65" y1="387.6" x2="255.65" y2="455.9" stroke="#e6e6e6" stroke-width="0.6"/>
<line x1="315.79" y1="387.6" x2="315.79" y2="455.9" stroke="#e6e6e6" stroke-width="0.6"/>
<line x1="95.6" y1="396.35" x2="319.6" y2="396.35" stroke="#e6e6e6" stroke-width="0.6"/>
<line x1="95.6" y1="412.85" x2="319.6" y2="412.85" stroke="#e6e6e6" stroke-width="0.6"/>
<line x1="95.6" y1="429.35" x2="319.6" y2="429.35" stroke="#e6e6e6" stroke-width="0.6"/>
<line x1="95.6" y1="445.85" x2="319.6" y2="445.85" stroke="#e6e6e6" stroke-width="0.6"/>
<line x1="105.3" y1="387.6" x2="105.3" y2="455.9" stroke="#d9d9d9" stroke-width="1.0"/>
<line x1="165.44" y1="387.6" x2="165.44" y2="455.9" stroke="#d9d9d9" stroke-width="1.0"/>
<line x1="225.58" y1="387.6" x2="225.58" y2="455.9" stroke="#d9d9d9" stroke-width="1.0"/>
<line x1="285.72" y1="387.6" x2="285.72" y2="455.9" stroke="#d9d9d9" stroke-width="1.0"/>
<line x1="95.6" y1="388.1" x2="319.6" y2="388.1" stroke="#d9d9d9" stroke-width="1.0"/>
<line x1="95.6" y1="404.6" x2="319.6" y2="404.6" stroke="#d9d9d9" stroke-width="1.0"/>
<line x1="95.6" y1="421.1" x2="319.6" y2="421.1" stroke="#d9d9d9" stroke-width="1.0"/>
<line x1="95.6" y1="437.6" x2="319.6" y2="437.6" stroke="#d9d9d9" stroke-width="1.0"/>
<line x1="95.6" y1="454.1" x2="319.6" y2="454.1" stroke="#d9d9d9" stroke-width="1.0"/>
<clipPath id="c6"><rect x="95.6" y="387.6" width="224" height="68.3"/></clipPath>
<g clip-path="url(#c6)">
<polygon points="106.2,433.7 110.2,427.6 111.4,426.2 112.5,425.1 113.7,424.2 115.5,423.2 122.7,420.2 124.5,419.2 125.7,418.4 127.5,416.9 129.2,415.2 134.9,408.8 136.6,406.2 137.2,404.7 140.2,392.2 140.8,390.7 141.4,390.1 142.5,390.3 143.7,391.0 146.5,393.7 147.1,394.6 147.7,395.8 149.5,400.2 150.1,401.5 150.7,402.3 151.3,402.6 156.4,402.6 157.0,402.8 157.5,403.3 158.7,405.2 160.3,408.9 161.4,412.5 162.9,419.8 163.4,421.6 163.9,422.8 165.1,424.1 166.8,425.5 169.7,427.3 176.5,432.4 181.6,435.9 185.1,438.4 186.9,439.5 188.6,440.3 189.8,440.5 191.5,440.5 198.3,439.7 201.2,439.6 204.1,440.1 210.6,441.8 212.4,442.1 214.2,442.2 215.4,442.1 216.6,441.8 220.8,440.3 222.0,440.1 223.2,440.1 225.5,440.4 231.3,442.0 235.9,442.6 242.2,443.2 253.3,443.5 271.9,443.5 273.7,443.4 278.5,442.5 280.9,442.2 282.7,442.3 286.9,442.9 289.3,442.8 296.3,441.6 298.7,441.3 302.2,441.3 308.6,441.6 308.6,449.5 302.2,449.2 298.7,449.2 296.3,449.5 289.3,450.7 286.9,450.8 282.7,450.2 280.9,450.2 278.5,450.4 273.7,451.3 271.9,451.4 249.8,451.4 241.0,451.0 234.2,450.4 231.3,449.9 225.5,448.4 223.2,448.0 222.0,448.0 220.8,448.2 216.6,449.7 215.4,450.0 214.2,450.1 213.0,450.1 210.0,449.7 203.6,448.1 201.2,447.6 191.0,446.9 189.2,446.7 186.9,446.2 182.8,444.9 180.5,443.9 179.3,443.2 177.1,441.2 172.5,436.1 170.8,434.4 169.1,433.2 165.7,431.4 163.9,430.0 163.4,429.4 162.4,427.8 160.3,423.7 159.8,422.5 158.1,417.7 157.5,416.4 157.0,415.5 156.4,415.2 155.9,415.2 154.7,415.8 152.4,417.3 151.3,417.6 150.7,417.3 150.1,416.5 149.5,415.2 147.7,410.8 147.1,409.6 146.5,408.9 144.8,407.6 143.7,406.9 142.5,406.4 141.4,406.2 140.8,406.6 140.2,407.7 137.2,416.5 136.6,417.6 136.0,418.4 134.3,420.1 133.2,421.0 131.5,422.1 125.7,424.8 120.9,427.2 117.3,429.2 114.9,430.6 112.5,432.3 111.4,433.3 106.2,438.8" fill="#000" fill-opacity="0.15"/>
<polyline points="106.2,436.3 108.4,436.9 108.9,436.9 109.4,436.6 109.9,435.8 112.0,430.8 112.5,430.0 113.1,429.5 114.8,428.2 118.2,426.4 122.8,424.8 125.1,423.7 126.2,422.8 127.7,420.9 128.8,420.1 129.9,419.8 133.3,419.3 133.9,419.1 134.4,418.7 135.4,417.1 137.5,412.5 138.0,411.1 140.3,404.1 140.8,403.0 141.4,402.6 141.9,402.7 143.1,403.2 144.7,404.5 145.8,405.5 149.0,410.7 149.6,411.4 150.7,412.3 152.5,413.3 153.7,413.5 154.3,413.4 155.9,412.6 156.4,412.5 157.0,412.7 158.1,413.6 159.7,416.2 160.3,417.9 162.1,426.0 162.7,427.7 163.8,429.1 164.8,430.2 166.3,431.3 170.8,433.4 174.8,435.9 177.1,437.5 181.2,441.2 182.9,442.5 184.1,443.1 187.0,444.0 189.2,444.5 191.0,444.5 198.3,443.6 201.2,443.6 204.1,444.1 210.6,445.8 212.4,446.1 214.2,446.2 216.0,445.9 220.8,444.3 222.0,444.1 223.2,444.1 225.5,444.4 231.3,446.0 235.9,446.6 242.2,447.1 252.7,447.5 271.9,447.5 273.7,447.3 278.5,446.5 280.9,446.2 282.7,446.2 286.9,446.8 289.3,446.7 296.3,445.5 298.7,445.2 302.2,445.2 308.6,445.5" fill="none" stroke="#1e1e1e" stroke-width="2.6" stroke-linejoin="round" stroke-linecap="round"/>
</g>
<rect x="95.6" y="387.6" width="224" height="68.3" fill="none" stroke="#474747" stroke-width="1.05"/>
<line x1="92.2" y1="388.1" x2="95.6" y2="388.1" stroke="#151515" stroke-width="1.3"/>
<text x="89.6" y="392.4" font-size="10.7" text-anchor="end" fill="#2e2e2e">15</text>
<line x1="92.2" y1="404.6" x2="95.6" y2="404.6" stroke="#151515" stroke-width="1.3"/>
<text x="89.6" y="408.9" font-size="10.7" text-anchor="end" fill="#2e2e2e">10</text>
<line x1="92.2" y1="421.1" x2="95.6" y2="421.1" stroke="#151515" stroke-width="1.3"/>
<text x="89.6" y="425.4" font-size="10.7" text-anchor="end" fill="#2e2e2e">5</text>
<line x1="92.2" y1="437.6" x2="95.6" y2="437.6" stroke="#151515" stroke-width="1.3"/>
<text x="89.6" y="441.9" font-size="10.7" text-anchor="end" fill="#2e2e2e">0</text>
<line x1="92.2" y1="454.1" x2="95.6" y2="454.1" stroke="#151515" stroke-width="1.3"/>
<text x="89.6" y="458.4" font-size="10.7" text-anchor="end" fill="#2e2e2e">−5</text>
<rect x="95.6" y="479.4" width="224" height="69.5" fill="#fff"/>
<line x1="135.37" y1="479.4" x2="135.37" y2="548.9" stroke="#e6e6e6" stroke-width="0.6"/>
<line x1="195.51" y1="479.4" x2="195.51" y2="548.9" stroke="#e6e6e6" stroke-width="0.6"/>
<line x1="255.65" y1="479.4" x2="255.65" y2="548.9" stroke="#e6e6e6" stroke-width="0.6"/>
<line x1="315.79" y1="479.4" x2="315.79" y2="548.9" stroke="#e6e6e6" stroke-width="0.6"/>
<line x1="95.6" y1="488.85" x2="319.6" y2="488.85" stroke="#e6e6e6" stroke-width="0.6"/>
<line x1="95.6" y1="509.15" x2="319.6" y2="509.15" stroke="#e6e6e6" stroke-width="0.6"/>
<line x1="95.6" y1="529.45" x2="319.6" y2="529.45" stroke="#e6e6e6" stroke-width="0.6"/>
<line x1="105.3" y1="479.4" x2="105.3" y2="548.9" stroke="#d9d9d9" stroke-width="1.0"/>
<line x1="165.44" y1="479.4" x2="165.44" y2="548.9" stroke="#d9d9d9" stroke-width="1.0"/>
<line x1="225.58" y1="479.4" x2="225.58" y2="548.9" stroke="#d9d9d9" stroke-width="1.0"/>
<line x1="285.72" y1="479.4" x2="285.72" y2="548.9" stroke="#d9d9d9" stroke-width="1.0"/>
<line x1="95.6" y1="499" x2="319.6" y2="499" stroke="#d9d9d9" stroke-width="1.0"/>
<line x1="95.6" y1="519.3" x2="319.6" y2="519.3" stroke="#d9d9d9" stroke-width="1.0"/>
<line x1="95.6" y1="539.6" x2="319.6" y2="539.6" stroke="#d9d9d9" stroke-width="1.0"/>
<clipPath id="c7"><rect x="95.6" y="479.4" width="224" height="69.5"/></clipPath>
<g clip-path="url(#c7)">
<polygon points="104.7,526.1 107.7,528.1 110.3,530.3 111.3,530.7 119.2,530.7 128.2,531.9 129.9,531.8 133.9,531.1 135.6,531.1 142.0,531.5 150.7,531.5 154.6,532.3 155.8,532.3 156.9,531.7 163.1,526.9 164.2,526.4 165.2,526.2 166.2,526.0 167.2,526.1 169.6,527.2 170.3,527.4 177.7,527.5 180.0,527.2 182.9,526.4 186.6,524.7 187.7,524.4 194.1,523.6 195.8,523.2 197.6,522.4 201.2,520.4 204.1,519.0 205.8,518.1 206.3,517.7 206.9,517.0 208.7,514.3 209.3,513.8 211.4,513.4 217.5,512.9 219.2,512.6 219.8,512.3 220.9,511.4 222.6,509.6 223.6,508.2 227.4,502.1 230.2,496.4 230.8,495.6 231.3,495.1 231.9,494.9 233.0,495.1 235.9,496.3 237.0,496.5 237.6,496.4 238.1,496.1 239.8,494.8 240.4,494.5 240.9,494.4 246.0,495.2 250.6,494.8 251.7,494.9 252.8,495.6 255.7,498.4 259.1,500.9 260.8,501.7 262.6,501.7 265.0,501.1 267.9,500.1 271.9,497.8 275.4,496.3 277.1,495.8 278.8,495.5 279.4,495.6 281.2,496.5 281.8,496.6 282.3,495.8 283.4,492.2 283.9,491.3 287.5,490.7 289.3,490.6 291.9,491.6 292.9,491.7 295.8,491.3 298.0,490.8 298.7,490.3 300.5,487.6 301.1,487.2 301.7,487.2 303.5,488.0 304.1,488.0 304.6,487.6 306.3,484.1 306.8,483.1 307.4,482.7 308.0,482.8 309.8,484.0 309.8,501.8 308.0,500.2 307.4,499.9 306.8,500.2 306.3,501.0 305.2,503.2 304.6,504.0 304.1,504.3 303.5,504.1 301.7,502.9 301.1,502.7 300.5,502.9 298.7,505.3 298.0,505.6 295.8,505.6 292.9,505.5 291.9,505.1 289.8,503.8 288.7,503.4 285.7,503.2 283.9,503.5 283.4,504.3 282.3,507.9 281.8,508.7 281.2,508.6 279.4,507.7 278.8,507.6 277.1,507.8 275.4,508.4 271.9,509.8 267.9,512.1 264.4,513.2 262.0,513.6 260.8,513.5 259.1,512.7 255.7,510.1 252.8,507.3 251.7,506.6 250.6,506.5 246.0,506.9 240.9,506.0 240.4,506.1 239.8,506.4 238.1,507.6 237.6,507.9 237.0,508.0 235.9,507.8 233.0,506.6 231.9,506.4 231.3,506.5 230.8,507.1 230.2,507.9 227.4,513.5 223.6,519.6 222.6,520.9 220.9,522.7 219.8,523.7 219.2,524.0 217.5,524.3 211.4,524.8 209.3,525.2 208.7,525.6 206.9,528.4 206.3,529.0 205.8,529.5 204.1,530.4 201.2,531.7 197.0,534.1 195.2,534.7 187.7,535.7 186.6,536.1 183.4,537.6 179.4,538.7 177.7,539.1 170.3,539.3 169.6,539.3 167.2,538.3 166.6,538.2 165.7,538.3 164.2,538.7 162.5,539.7 159.7,542.2 156.9,544.5 155.8,545.1 155.2,545.2 153.5,545.1 150.7,544.5 142.0,544.5 135.6,544.1 133.9,544.1 129.9,544.8 128.2,544.9 119.2,543.7 111.3,543.7 110.3,543.3 107.7,541.1 104.7,539.1" fill="#000" fill-opacity="0.15"/>
<polyline points="104.7,532.6 107.7,534.6 110.3,536.8 111.3,537.2 119.2,537.2 128.2,538.4 129.9,538.3 133.9,537.6 135.6,537.6 142.0,538.0 150.7,538.0 154.1,538.7 155.2,538.8 155.8,538.7 156.3,538.5 157.4,537.7 162.5,533.5 164.2,532.6 165.7,532.2 166.6,532.1 167.2,532.2 169.6,533.3 170.3,533.3 177.7,533.3 180.0,532.9 182.9,532.1 186.6,530.4 187.7,530.1 195.2,529.0 197.0,528.4 201.2,526.0 204.1,524.7 205.8,523.8 206.3,523.4 206.9,522.7 208.7,519.9 209.3,519.5 211.4,519.1 217.5,518.6 219.2,518.3 219.8,518.0 220.9,517.0 222.6,515.2 223.6,513.9 227.4,507.8 230.2,502.1 230.8,501.3 231.3,500.8 231.9,500.6 233.0,500.8 235.9,502.0 237.0,502.2 237.6,502.1 238.1,501.8 239.8,500.6 240.4,500.3 240.9,500.2 246.0,501.0 250.6,500.6 251.7,500.7 252.8,501.4 255.7,504.2 259.1,506.8 260.8,507.6 262.0,507.7 264.4,507.2 267.9,506.1 271.9,503.8 275.4,502.4 277.1,501.8 278.8,501.6 279.4,501.7 281.2,502.5 281.8,502.7 282.3,501.8 283.4,498.3 283.9,497.4 286.9,497.0 289.3,497.0 291.9,498.3 292.9,498.6 295.8,498.5 298.0,498.2 298.7,497.8 300.5,495.3 301.1,494.9 301.7,495.1 303.5,496.0 304.1,496.2 304.6,495.8 305.2,494.9 306.3,492.5 306.8,491.6 307.4,491.3 308.0,491.5 309.8,492.9" fill="none" stroke="#1e1e1e" stroke-width="2.6" stroke-linejoin="round" stroke-linecap="round"/>
</g>
<rect x="95.6" y="479.4" width="224" height="69.5" fill="none" stroke="#474747" stroke-width="1.05"/>
<line x1="92.2" y1="499" x2="95.6" y2="499" stroke="#151515" stroke-width="1.3"/>
<text x="89.6" y="503.3" font-size="10.7" text-anchor="end" fill="#2e2e2e">5</text>
<line x1="92.2" y1="519.3" x2="95.6" y2="519.3" stroke="#151515" stroke-width="1.3"/>
<text x="89.6" y="523.6" font-size="10.7" text-anchor="end" fill="#2e2e2e">0</text>
<line x1="92.2" y1="539.6" x2="95.6" y2="539.6" stroke="#151515" stroke-width="1.3"/>
<text x="89.6" y="543.9" font-size="10.7" text-anchor="end" fill="#2e2e2e">−5</text>
<rect x="95.7" y="558.8" width="108.2" height="15.5" fill="#fff" stroke="#474747" stroke-width="1.05"/>
<text x="149.8" y="568.37" font-size="5.7" text-anchor="middle" fill="#1a1a1a" style="stroke-width:0.12px">Trend 1</text>
<rect x="95.7" y="574.3" width="108.2" height="52.8" fill="#fff"/>
<line x1="114.93" y1="574.3" x2="114.93" y2="627.1" stroke="#e6e6e6" stroke-width="0.6"/>
<line x1="144.19" y1="574.3" x2="144.19" y2="627.1" stroke="#e6e6e6" stroke-width="0.6"/>
<line x1="173.45" y1="574.3" x2="173.45" y2="627.1" stroke="#e6e6e6" stroke-width="0.6"/>
<line x1="202.71" y1="574.3" x2="202.71" y2="627.1" stroke="#e6e6e6" stroke-width="0.6"/>
<line x1="95.7" y1="581.22" x2="203.9" y2="581.22" stroke="#e6e6e6" stroke-width="0.6"/>
<line x1="95.7" y1="594.14" x2="203.9" y2="594.14" stroke="#e6e6e6" stroke-width="0.6"/>
<line x1="95.7" y1="607.06" x2="203.9" y2="607.06" stroke="#e6e6e6" stroke-width="0.6"/>
<line x1="95.7" y1="619.98" x2="203.9" y2="619.98" stroke="#e6e6e6" stroke-width="0.6"/>
<line x1="100.3" y1="574.3" x2="100.3" y2="627.1" stroke="#d9d9d9" stroke-width="1.0"/>
<line x1="129.56" y1="574.3" x2="129.56" y2="627.1" stroke="#d9d9d9" stroke-width="1.0"/>
<line x1="158.82" y1="574.3" x2="158.82" y2="627.1" stroke="#d9d9d9" stroke-width="1.0"/>
<line x1="188.08" y1="574.3" x2="188.08" y2="627.1" stroke="#d9d9d9" stroke-width="1.0"/>
<line x1="95.7" y1="574.76" x2="203.9" y2="574.76" stroke="#d9d9d9" stroke-width="1.0"/>
<line x1="95.7" y1="587.68" x2="203.9" y2="587.68" stroke="#d9d9d9" stroke-width="1.0"/>
<line x1="95.7" y1="600.6" x2="203.9" y2="600.6" stroke="#d9d9d9" stroke-width="1.0"/>
<line x1="95.7" y1="613.52" x2="203.9" y2="613.52" stroke="#d9d9d9" stroke-width="1.0"/>
<line x1="95.7" y1="626.44" x2="203.9" y2="626.44" stroke="#d9d9d9" stroke-width="1.0"/>
<clipPath id="c8"><rect x="95.7" y="574.3" width="108.2" height="52.8"/></clipPath>
<g clip-path="url(#c8)">
<polygon points="100.3,596.1 102.9,593.7 103.8,593.3 104.4,593.2 105.2,593.4 106.4,594.0 110.0,596.1 111.5,597.1 112.3,598.0 112.9,598.9 113.7,601.3 114.5,605.0 115.1,610.8 115.4,612.5 117.3,613.2 119.9,613.4 120.8,613.2 121.7,612.8 123.7,611.3 124.5,610.3 126.9,606.3 129.0,603.9 129.9,603.3 130.4,603.1 131.3,603.4 133.3,605.2 134.1,605.8 135.0,605.9 135.6,605.5 136.4,604.6 138.2,602.4 142.0,596.0 143.7,593.9 145.4,592.1 147.4,590.4 150.4,588.4 151.5,588.1 154.9,588.1 155.7,587.6 156.9,586.3 160.0,581.8 162.8,578.7 164.0,577.9 164.8,577.8 165.7,578.5 168.3,582.3 170.2,585.6 171.0,586.7 171.5,587.1 172.4,587.6 173.8,588.0 174.6,588.1 175.5,587.7 178.6,584.5 179.5,584.0 180.0,583.9 180.6,584.0 181.2,584.3 184.3,587.4 185.2,588.0 185.7,588.1 187.5,587.8 189.8,587.0 190.6,586.4 192.8,584.4 193.9,583.9 194.8,583.9 195.9,584.2 199.6,585.7 199.6,598.4 195.9,596.1 195.1,595.7 194.2,595.6 193.1,595.9 190.6,597.5 189.8,597.9 187.2,598.3 185.5,598.4 184.9,598.2 184.0,597.6 181.5,595.2 180.6,594.8 180.0,594.7 179.5,594.7 178.6,595.1 175.5,597.2 174.6,597.4 174.0,597.4 173.2,597.0 171.3,595.4 169.4,593.0 168.6,592.2 168.0,591.9 167.5,591.9 166.9,592.3 165.1,594.6 164.2,595.3 162.5,596.4 156.6,599.4 155.4,599.7 154.6,599.8 154.0,599.7 152.1,598.4 151.5,598.4 151.0,598.7 149.9,599.8 145.4,605.4 142.0,610.1 139.3,614.6 138.2,615.9 137.6,616.3 136.4,616.8 135.6,617.1 134.7,617.2 133.5,616.9 131.0,615.4 130.4,615.3 129.9,615.5 129.0,616.2 124.0,621.5 121.4,623.5 120.5,624.0 119.9,624.2 114.2,623.7 112.6,622.8 107.8,620.6 105.5,619.2 103.8,617.9 102.6,616.5 100.3,613.4" fill="#000" fill-opacity="0.15"/>
<polyline points="100.3,608.3 104.9,612.1 106.9,613.3 113.2,616.0 116.7,617.0 118.7,617.4 120.2,617.3 121.1,616.9 122.0,616.4 124.8,614.2 129.3,609.9 130.1,609.3 130.7,609.2 131.3,609.4 135.7,611.4 136.3,611.6 136.9,611.5 137.5,611.0 138.0,610.2 144.2,600.1 145.9,597.8 147.4,596.1 149.9,593.8 150.9,593.3 151.5,593.3 152.1,593.5 154.0,594.7 154.6,594.9 155.1,594.6 155.7,594.0 160.2,587.2 162.4,585.5 163.6,584.8 164.4,584.6 165.0,584.5 165.5,584.8 167.7,588.1 170.7,590.0 173.2,592.7 174.0,593.2 174.6,593.2 175.2,592.9 177.0,591.1 178.6,589.7 179.5,589.2 180.0,589.0 180.9,589.3 181.8,589.9 183.5,591.4 185.5,593.6 186.3,594.1 186.9,594.2 187.8,594.0 189.5,593.2 190.4,592.5 192.0,590.6 193.7,589.5 194.8,589.1 195.9,589.2 197.6,590.0 198.4,590.8 199.6,592.8" fill="none" stroke="#1e1e1e" stroke-width="2.6" stroke-linejoin="round" stroke-linecap="round"/>
</g>
<rect x="95.7" y="574.3" width="108.2" height="52.8" fill="none" stroke="#474747" stroke-width="1.05"/>
<line x1="95.7" y1="574.3" x2="203.9" y2="574.3" stroke="#262626" stroke-width="1.6"/>
<line x1="92.3" y1="574.76" x2="95.7" y2="574.76" stroke="#151515" stroke-width="1.3"/>
<text x="89.7" y="579.06" font-size="10.7" text-anchor="end" fill="#2e2e2e">8</text>
<line x1="92.3" y1="587.68" x2="95.7" y2="587.68" stroke="#151515" stroke-width="1.3"/>
<text x="89.7" y="591.98" font-size="10.7" text-anchor="end" fill="#2e2e2e">4</text>
<line x1="92.3" y1="600.6" x2="95.7" y2="600.6" stroke="#151515" stroke-width="1.3"/>
<text x="89.7" y="604.9" font-size="10.7" text-anchor="end" fill="#2e2e2e">0</text>
<line x1="92.3" y1="613.52" x2="95.7" y2="613.52" stroke="#151515" stroke-width="1.3"/>
<text x="89.7" y="617.82" font-size="10.7" text-anchor="end" fill="#2e2e2e">−4</text>
<line x1="92.3" y1="626.44" x2="95.7" y2="626.44" stroke="#151515" stroke-width="1.3"/>
<text x="89.7" y="630.74" font-size="10.7" text-anchor="end" fill="#2e2e2e">−8</text>
<rect x="211.3" y="558.8" width="108.2" height="15.5" fill="#fff" stroke="#474747" stroke-width="1.05"/>
<text x="265.4" y="568.37" font-size="5.7" text-anchor="middle" fill="#1a1a1a" style="stroke-width:0.12px">Trend 2</text>
<rect x="211.3" y="574.3" width="108.2" height="52.8" fill="#fff"/>
<line x1="230.93" y1="574.3" x2="230.93" y2="627.1" stroke="#e6e6e6" stroke-width="0.6"/>
<line x1="260.19" y1="574.3" x2="260.19" y2="627.1" stroke="#e6e6e6" stroke-width="0.6"/>
<line x1="289.45" y1="574.3" x2="289.45" y2="627.1" stroke="#e6e6e6" stroke-width="0.6"/>
<line x1="318.71" y1="574.3" x2="318.71" y2="627.1" stroke="#e6e6e6" stroke-width="0.6"/>
<line x1="211.3" y1="581.22" x2="319.5" y2="581.22" stroke="#e6e6e6" stroke-width="0.6"/>
<line x1="211.3" y1="594.14" x2="319.5" y2="594.14" stroke="#e6e6e6" stroke-width="0.6"/>
<line x1="211.3" y1="607.06" x2="319.5" y2="607.06" stroke="#e6e6e6" stroke-width="0.6"/>
<line x1="211.3" y1="619.98" x2="319.5" y2="619.98" stroke="#e6e6e6" stroke-width="0.6"/>
<line x1="216.3" y1="574.3" x2="216.3" y2="627.1" stroke="#d9d9d9" stroke-width="1.0"/>
<line x1="245.56" y1="574.3" x2="245.56" y2="627.1" stroke="#d9d9d9" stroke-width="1.0"/>
<line x1="274.82" y1="574.3" x2="274.82" y2="627.1" stroke="#d9d9d9" stroke-width="1.0"/>
<line x1="304.08" y1="574.3" x2="304.08" y2="627.1" stroke="#d9d9d9" stroke-width="1.0"/>
<line x1="211.3" y1="574.76" x2="319.5" y2="574.76" stroke="#d9d9d9" stroke-width="1.0"/>
<line x1="211.3" y1="587.68" x2="319.5" y2="587.68" stroke="#d9d9d9" stroke-width="1.0"/>
<line x1="211.3" y1="600.6" x2="319.5" y2="600.6" stroke="#d9d9d9" stroke-width="1.0"/>
<line x1="211.3" y1="613.52" x2="319.5" y2="613.52" stroke="#d9d9d9" stroke-width="1.0"/>
<line x1="211.3" y1="626.44" x2="319.5" y2="626.44" stroke="#d9d9d9" stroke-width="1.0"/>
<clipPath id="c9"><rect x="211.3" y="574.3" width="108.2" height="52.8"/></clipPath>
<g clip-path="url(#c9)">
<polygon points="216.4,590.9 218.3,587.1 219.1,586.2 221.4,585.4 224.8,584.8 227.8,584.0 229.5,583.9 230.6,584.1 237.7,586.7 241.1,588.2 241.9,588.9 243.4,592.3 244.0,592.8 247.6,592.7 248.4,592.3 250.4,590.6 251.0,590.4 251.6,590.5 253.0,590.9 255.1,592.0 257.3,594.9 258.2,595.5 258.7,595.6 259.3,595.3 261.8,593.6 263.0,593.5 264.1,593.8 265.6,594.3 267.4,596.1 267.9,596.5 268.2,596.5 270.2,596.2 273.2,595.0 276.1,592.7 278.1,591.4 279.3,590.7 280.1,590.4 280.7,590.4 281.5,590.7 287.0,592.8 290.0,593.6 291.9,593.7 296.0,593.1 299.1,592.4 301.3,591.8 304.1,590.4 305.3,590.0 306.4,590.0 310.8,590.4 312.3,590.2 314.9,589.5 314.9,611.6 311.7,612.4 310.5,612.5 310.0,612.4 308.9,612.0 306.1,610.3 303.0,609.1 301.3,608.7 300.7,608.8 299.9,609.0 296.8,611.1 296.0,611.5 295.4,611.6 294.6,611.3 292.8,609.8 291.9,609.3 290.3,609.3 288.1,609.5 287.0,609.7 286.4,610.0 285.6,611.0 283.6,614.0 281.5,616.2 281.0,616.6 280.4,616.7 279.8,616.5 279.3,616.0 277.0,612.8 274.4,610.5 272.6,609.6 269.3,608.7 267.9,608.1 266.8,607.1 265.0,605.1 263.3,602.9 262.7,602.3 260.4,601.5 258.4,601.2 257.9,601.5 257.3,602.2 255.1,606.4 250.7,613.0 247.9,618.2 245.6,621.5 244.8,622.5 244.0,622.8 243.4,622.7 239.9,619.5 239.4,619.2 238.8,619.1 238.6,619.1 238.0,619.5 236.1,622.1 235.6,622.6 235.0,622.8 234.5,622.4 233.9,621.4 232.2,616.3 231.7,613.8 230.3,605.2 229.7,602.8 229.5,602.2 228.4,600.9 227.0,599.9 225.6,599.2 222.8,598.2 221.1,597.7 219.4,597.5 218.3,597.5 216.4,598.0" fill="#000" fill-opacity="0.15"/>
<polyline points="216.4,594.7 218.3,592.1 218.8,591.7 219.1,591.7 220.8,591.9 223.4,592.8 225.0,593.5 227.3,594.9 228.4,596.1 229.0,597.2 230.6,603.4 232.0,610.8 232.2,611.6 232.8,612.7 233.7,613.9 234.3,614.3 234.9,614.3 235.4,613.7 237.3,610.5 237.8,610.2 238.4,610.2 239.6,610.4 240.4,610.8 241.0,611.4 242.8,614.1 244.4,615.1 245.4,615.3 245.7,615.3 246.2,614.8 247.1,613.5 248.5,611.1 250.1,607.4 251.0,605.9 253.8,603.1 255.8,599.2 256.4,598.5 256.7,598.4 257.5,598.6 259.1,599.6 259.9,599.8 260.5,599.5 262.1,597.3 262.4,597.1 263.0,597.0 264.1,597.4 266.1,598.7 269.2,600.3 270.3,600.7 271.2,600.8 272.9,600.4 276.0,599.2 279.3,597.1 280.7,596.5 281.8,596.7 284.4,597.7 285.2,598.0 293.4,598.8 295.4,598.9 296.5,598.8 297.7,598.4 301.0,597.1 304.1,595.7 305.9,595.2 307.5,595.2 309.5,595.4 310.0,595.9 310.9,597.2 311.4,597.7 312.2,597.5 313.3,597.0 314.9,595.8" fill="none" stroke="#1e1e1e" stroke-width="2.6" stroke-linejoin="round" stroke-linecap="round"/>
</g>
<rect x="211.3" y="574.3" width="108.2" height="52.8" fill="none" stroke="#474747" stroke-width="1.05"/>
<line x1="211.3" y1="574.3" x2="319.5" y2="574.3" stroke="#262626" stroke-width="1.6"/>
<rect x="95.7" y="644.5" width="108.2" height="15.5" fill="#fff" stroke="#474747" stroke-width="1.05"/>
<text x="149.8" y="654.07" font-size="5.7" text-anchor="middle" fill="#1a1a1a" style="stroke-width:0.12px">Trend 1</text>
<rect x="95.7" y="660" width="108.2" height="52.6" fill="#fff"/>
<line x1="114.93" y1="660" x2="114.93" y2="712.6" stroke="#e6e6e6" stroke-width="0.6"/>
<line x1="144.19" y1="660" x2="144.19" y2="712.6" stroke="#e6e6e6" stroke-width="0.6"/>
<line x1="173.45" y1="660" x2="173.45" y2="712.6" stroke="#e6e6e6" stroke-width="0.6"/>
<line x1="202.71" y1="660" x2="202.71" y2="712.6" stroke="#e6e6e6" stroke-width="0.6"/>
<line x1="95.7" y1="666.1" x2="203.9" y2="666.1" stroke="#e6e6e6" stroke-width="0.6"/>
<line x1="95.7" y1="685.1" x2="203.9" y2="685.1" stroke="#e6e6e6" stroke-width="0.6"/>
<line x1="95.7" y1="704.1" x2="203.9" y2="704.1" stroke="#e6e6e6" stroke-width="0.6"/>
<line x1="100.3" y1="660" x2="100.3" y2="712.6" stroke="#d9d9d9" stroke-width="1.0"/>
<line x1="129.56" y1="660" x2="129.56" y2="712.6" stroke="#d9d9d9" stroke-width="1.0"/>
<line x1="158.82" y1="660" x2="158.82" y2="712.6" stroke="#d9d9d9" stroke-width="1.0"/>
<line x1="188.08" y1="660" x2="188.08" y2="712.6" stroke="#d9d9d9" stroke-width="1.0"/>
<line x1="95.7" y1="675.6" x2="203.9" y2="675.6" stroke="#d9d9d9" stroke-width="1.0"/>
<line x1="95.7" y1="694.6" x2="203.9" y2="694.6" stroke="#d9d9d9" stroke-width="1.0"/>
<clipPath id="c10"><rect x="95.7" y="660" width="108.2" height="52.6"/></clipPath>
<g clip-path="url(#c10)">
<polygon points="100.4,684.8 105.3,684.8 107.8,685.5 108.6,685.6 109.5,685.4 111.6,684.5 112.4,684.3 117.7,684.3 119.7,684.8 123.4,686.4 127.5,688.5 130.8,689.8 132.5,690.6 133.4,691.4 135.4,694.0 136.3,694.8 137.9,695.5 142.9,696.9 144.0,697.4 144.9,698.3 147.3,701.4 149.2,703.0 150.3,703.8 151.1,704.1 151.6,704.1 154.2,703.3 155.0,703.1 155.6,703.5 157.1,705.3 157.6,705.6 159.0,705.4 160.1,704.9 160.4,704.6 161.0,703.5 162.5,699.6 163.1,698.7 163.4,698.6 163.9,698.7 164.7,699.4 166.1,701.0 167.3,703.4 167.6,703.5 167.9,703.4 168.7,702.4 173.3,694.4 175.3,691.8 176.1,691.1 177.0,691.2 179.3,692.2 180.2,692.3 181.0,692.2 182.7,691.4 183.6,691.1 184.4,691.2 186.6,691.7 187.4,691.7 188.5,691.3 191.4,689.2 192.6,688.7 194.2,689.0 198.9,690.4 198.9,697.3 194.2,695.8 193.2,695.6 191.7,695.5 188.8,696.1 187.6,696.0 186.8,695.6 185.2,694.5 184.1,694.1 183.3,694.2 181.0,695.2 180.2,695.4 179.3,695.2 177.0,694.2 176.1,694.2 175.3,694.8 173.3,697.4 168.7,705.5 167.9,706.5 167.6,706.6 167.3,706.4 166.1,704.1 164.7,702.5 163.9,701.8 163.4,701.6 163.1,701.8 162.5,702.7 161.0,706.5 160.4,707.6 160.1,707.9 159.0,708.4 157.6,708.7 157.1,708.3 155.6,706.5 155.0,706.2 154.2,706.3 151.6,707.1 151.1,707.1 150.3,706.8 149.2,706.1 147.3,704.4 144.9,701.4 144.0,700.5 142.9,700.0 137.9,698.5 136.3,697.8 135.4,697.1 133.4,694.5 132.5,693.6 130.8,692.8 127.5,691.6 123.4,689.5 119.7,687.9 117.7,687.4 112.4,687.4 111.6,687.5 109.5,688.4 108.6,688.6 107.8,688.5 105.3,687.9 100.4,687.9" fill="#000" fill-opacity="0.15"/>
<polyline points="100.4,686.3 105.3,686.3 107.8,687.0 108.6,687.1 109.5,686.9 111.6,686.0 112.4,685.9 117.7,685.9 119.7,686.3 123.4,688.0 127.5,690.0 130.8,691.3 132.5,692.1 133.4,692.9 135.4,695.6 136.3,696.3 137.9,697.0 142.9,698.4 144.0,699.0 144.9,699.8 147.3,702.9 149.2,704.6 150.3,705.3 151.1,705.6 151.6,705.6 154.2,704.8 155.0,704.7 155.6,705.0 157.1,706.8 157.6,707.1 159.0,706.9 160.1,706.4 160.4,706.1 161.0,705.0 162.5,701.2 163.1,700.2 163.4,700.1 163.9,700.3 164.7,700.9 166.1,702.6 167.3,704.9 167.6,705.1 167.9,705.0 168.7,704.0 173.3,695.9 175.3,693.3 176.1,692.7 177.0,692.7 179.3,693.7 180.2,693.8 181.0,693.7 183.3,692.7 184.1,692.6 184.9,692.8 186.8,693.7 187.6,693.8 188.8,693.6 191.7,692.3 192.9,692.1 194.2,692.4 198.9,693.8" fill="none" stroke="#1e1e1e" stroke-width="2.6" stroke-linejoin="round" stroke-linecap="round"/>
</g>
<rect x="95.7" y="660" width="108.2" height="52.6" fill="none" stroke="#474747" stroke-width="1.05"/>
<line x1="95.7" y1="660" x2="203.9" y2="660" stroke="#262626" stroke-width="1.6"/>
<line x1="92.3" y1="675.6" x2="95.7" y2="675.6" stroke="#151515" stroke-width="1.3"/>
<text x="89.7" y="679.9" font-size="10.7" text-anchor="end" fill="#2e2e2e">10</text>
<line x1="92.3" y1="694.6" x2="95.7" y2="694.6" stroke="#151515" stroke-width="1.3"/>
<text x="89.7" y="698.9" font-size="10.7" text-anchor="end" fill="#2e2e2e">0</text>
<text x="100.3" y="723.8" font-size="9.2" text-anchor="middle" fill="#2e2e2e">1950</text>
<text x="129.56" y="723.8" font-size="9.2" text-anchor="middle" fill="#2e2e2e">1970</text>
<text x="158.82" y="723.8" font-size="9.2" text-anchor="middle" fill="#2e2e2e">1990</text>
<text x="188.08" y="723.8" font-size="9.2" text-anchor="middle" fill="#2e2e2e">2010</text>
<rect x="211.3" y="644.5" width="108.2" height="15.5" fill="#fff" stroke="#474747" stroke-width="1.05"/>
<text x="265.4" y="654.07" font-size="5.7" text-anchor="middle" fill="#1a1a1a" style="stroke-width:0.12px">Trend 2</text>
<rect x="211.3" y="660" width="108.2" height="52.6" fill="#fff"/>
<line x1="230.93" y1="660" x2="230.93" y2="712.6" stroke="#e6e6e6" stroke-width="0.6"/>
<line x1="260.19" y1="660" x2="260.19" y2="712.6" stroke="#e6e6e6" stroke-width="0.6"/>
<line x1="289.45" y1="660" x2="289.45" y2="712.6" stroke="#e6e6e6" stroke-width="0.6"/>
<line x1="318.71" y1="660" x2="318.71" y2="712.6" stroke="#e6e6e6" stroke-width="0.6"/>
<line x1="211.3" y1="666.1" x2="319.5" y2="666.1" stroke="#e6e6e6" stroke-width="0.6"/>
<line x1="211.3" y1="685.1" x2="319.5" y2="685.1" stroke="#e6e6e6" stroke-width="0.6"/>
<line x1="211.3" y1="704.1" x2="319.5" y2="704.1" stroke="#e6e6e6" stroke-width="0.6"/>
<line x1="216.3" y1="660" x2="216.3" y2="712.6" stroke="#d9d9d9" stroke-width="1.0"/>
<line x1="245.56" y1="660" x2="245.56" y2="712.6" stroke="#d9d9d9" stroke-width="1.0"/>
<line x1="274.82" y1="660" x2="274.82" y2="712.6" stroke="#d9d9d9" stroke-width="1.0"/>
<line x1="304.08" y1="660" x2="304.08" y2="712.6" stroke="#d9d9d9" stroke-width="1.0"/>
<line x1="211.3" y1="675.6" x2="319.5" y2="675.6" stroke="#d9d9d9" stroke-width="1.0"/>
<line x1="211.3" y1="694.6" x2="319.5" y2="694.6" stroke="#d9d9d9" stroke-width="1.0"/>
<clipPath id="c11"><rect x="211.3" y="660" width="108.2" height="52.6"/></clipPath>
<g clip-path="url(#c11)">
<polygon points="216.3,696.4 218.6,697.4 219.5,697.4 222.0,697.1 224.8,697.1 225.3,697.4 227.0,698.8 227.9,699.1 230.7,698.6 232.4,698.6 248.8,700.7 251.1,700.7 256.7,700.2 260.5,700.6 261.9,700.6 267.7,699.8 270.5,699.2 271.9,698.6 273.3,697.4 274.9,695.6 276.9,692.6 277.5,692.1 278.0,691.7 280.4,691.0 284.6,690.2 285.5,689.8 287.4,688.3 289.3,687.3 290.4,686.9 291.5,686.9 294.0,688.1 294.6,688.1 295.1,687.8 297.6,685.1 300.4,683.6 301.3,683.1 302.1,682.2 302.9,681.1 303.8,679.5 306.8,670.8 307.6,669.2 308.7,668.3 309.8,667.9 310.1,668.0 310.4,668.3 311.5,670.4 311.8,670.8 312.1,670.9 312.4,670.7 312.9,669.8 314.3,666.3 314.3,675.0 312.9,678.3 312.4,679.1 312.1,679.2 311.8,679.0 311.5,678.6 310.4,676.3 310.1,675.9 309.8,675.7 308.7,676.0 307.6,676.7 307.3,677.0 306.8,678.1 303.8,686.2 302.9,687.4 301.8,688.4 300.7,688.9 298.2,689.2 297.4,689.4 296.8,689.8 295.4,691.3 294.6,691.9 293.7,691.8 291.5,690.7 290.4,690.7 289.3,691.1 287.4,692.1 285.5,693.5 284.6,694.0 280.4,694.7 278.0,695.5 277.5,695.8 276.9,696.3 274.7,699.7 273.0,701.4 271.6,702.5 269.6,703.1 267.1,703.6 261.9,704.3 260.5,704.3 256.7,703.8 251.1,704.2 248.8,704.2 232.4,702.1 230.7,702.1 227.9,702.6 227.0,702.3 225.3,700.8 224.8,700.6 222.0,700.5 219.5,700.8 218.6,700.9 216.3,699.8" fill="#000" fill-opacity="0.15"/>
<polyline points="216.3,698.1 218.6,699.1 219.5,699.1 222.0,698.8 224.8,698.8 225.3,699.1 227.0,700.5 227.9,700.9 230.7,700.3 232.4,700.3 248.8,702.5 251.1,702.4 256.7,702.0 260.5,702.5 261.9,702.5 267.4,701.7 270.2,701.1 271.6,700.6 273.3,699.2 274.7,697.8 276.9,694.5 277.7,693.7 280.2,692.9 284.6,692.1 285.5,691.6 287.4,690.2 289.3,689.2 290.4,688.8 291.5,688.8 293.7,689.9 294.6,690.0 295.4,689.4 297.4,687.4 298.2,687.0 300.4,686.3 301.3,685.9 302.4,684.9 303.5,683.4 304.3,681.5 306.8,674.5 307.3,673.3 307.6,672.9 308.7,672.1 309.8,671.8 310.1,671.9 310.4,672.3 311.5,674.5 311.8,674.9 312.1,675.0 312.4,674.9 312.9,674.0 314.3,670.7" fill="none" stroke="#1e1e1e" stroke-width="2.6" stroke-linejoin="round" stroke-linecap="round"/>
</g>
<rect x="211.3" y="660" width="108.2" height="52.6" fill="none" stroke="#474747" stroke-width="1.05"/>
<line x1="211.3" y1="660" x2="319.5" y2="660" stroke="#262626" stroke-width="1.6"/>
<text x="216.3" y="723.8" font-size="9.2" text-anchor="middle" fill="#2e2e2e">1950</text>
<text x="245.56" y="723.8" font-size="9.2" text-anchor="middle" fill="#2e2e2e">1970</text>
<text x="274.82" y="723.8" font-size="9.2" text-anchor="middle" fill="#2e2e2e">1990</text>
<text x="304.08" y="723.8" font-size="9.2" text-anchor="middle" fill="#2e2e2e">2010</text>
<rect x="355.2" y="45.3" width="220.8" height="68.7" fill="#fff"/>
<line x1="387.62" y1="45.3" x2="387.62" y2="114" stroke="#e6e6e6" stroke-width="0.6"/>
<line x1="452.86" y1="45.3" x2="452.86" y2="114" stroke="#e6e6e6" stroke-width="0.6"/>
<line x1="518.1" y1="45.3" x2="518.1" y2="114" stroke="#e6e6e6" stroke-width="0.6"/>
<line x1="355.2" y1="96.83" x2="576" y2="96.83" stroke="#e6e6e6" stroke-width="0.6"/>
<line x1="355.2" y1="62.47" x2="576" y2="62.47" stroke="#e6e6e6" stroke-width="0.6"/>
<line x1="420.24" y1="45.3" x2="420.24" y2="114" stroke="#d9d9d9" stroke-width="1.0"/>
<line x1="485.48" y1="45.3" x2="485.48" y2="114" stroke="#d9d9d9" stroke-width="1.0"/>
<line x1="550.72" y1="45.3" x2="550.72" y2="114" stroke="#d9d9d9" stroke-width="1.0"/>
<line x1="355.2" y1="79.65" x2="576" y2="79.65" stroke="#d9d9d9" stroke-width="1.0"/>
<clipPath id="c12"><rect x="355.2" y="45.3" width="220.8" height="68.7"/></clipPath>
<g clip-path="url(#c12)">
<polygon points="354.7,114.0 354.7,71.4 355.7,72.1 358.3,76.9 360.9,84.5 363.5,94.8 365.8,105.8 367.7,112.6 368.7,114.0" fill="#000" fill-opacity="0.25"/>
<polygon points="473.4,45.3 475.7,47.7 478.0,45.3" fill="#000" fill-opacity="0.25"/>
<line x1="446.34" y1="114" x2="446.34" y2="45.3" stroke="#000" stroke-width="2.8" stroke-dasharray="10.4 10.9"/>
<polyline points="351.7,110.9 357.0,111.7 361.2,113.2 363.5,113.8 364.8,114.0 446.7,114.0 446.9,113.1 447.2,110.8 448.6,92.0 450.9,70.7 451.9,57.8 452.2,54.9 453.2,50.5 454.1,48.2 455.0,46.8 455.5,46.2 456.4,45.6 457.1,45.3 580.1,45.3" fill="none" stroke="#111" stroke-width="2.7" stroke-linejoin="round"/>
</g>
<rect x="355.2" y="45.3" width="220.8" height="68.7" fill="none" stroke="#474747" stroke-width="1.05"/>
<text x="465.3" y="108" font-size="11.8" text-anchor="middle" fill="#1a1a1a">1978</text>
<line x1="351.8" y1="114" x2="355.2" y2="114" stroke="#151515" stroke-width="1.3"/>
<text x="349.8" y="118.3" font-size="10.7" text-anchor="end" fill="#2e2e2e" letter-spacing="0.6">0.0</text>
<line x1="351.8" y1="79.65" x2="355.2" y2="79.65" stroke="#151515" stroke-width="1.3"/>
<text x="349.8" y="83.95" font-size="10.7" text-anchor="end" fill="#2e2e2e" letter-spacing="0.6">0.5</text>
<line x1="351.8" y1="45.3" x2="355.2" y2="45.3" stroke="#151515" stroke-width="1.3"/>
<text x="349.8" y="49.6" font-size="10.7" text-anchor="end" fill="#2e2e2e" letter-spacing="0.6">1.0</text>
<rect x="355.2" y="131.2" width="220.8" height="68.1" fill="#fff"/>
<line x1="387.62" y1="131.2" x2="387.62" y2="199.3" stroke="#e6e6e6" stroke-width="0.6"/>
<line x1="452.86" y1="131.2" x2="452.86" y2="199.3" stroke="#e6e6e6" stroke-width="0.6"/>
<line x1="518.1" y1="131.2" x2="518.1" y2="199.3" stroke="#e6e6e6" stroke-width="0.6"/>
<line x1="355.2" y1="182.28" x2="576" y2="182.28" stroke="#e6e6e6" stroke-width="0.6"/>
<line x1="355.2" y1="148.22" x2="576" y2="148.22" stroke="#e6e6e6" stroke-width="0.6"/>
<line x1="420.24" y1="131.2" x2="420.24" y2="199.3" stroke="#d9d9d9" stroke-width="1.0"/>
<line x1="485.48" y1="131.2" x2="485.48" y2="199.3" stroke="#d9d9d9" stroke-width="1.0"/>
<line x1="550.72" y1="131.2" x2="550.72" y2="199.3" stroke="#d9d9d9" stroke-width="1.0"/>
<line x1="355.2" y1="165.25" x2="576" y2="165.25" stroke="#d9d9d9" stroke-width="1.0"/>
<clipPath id="c13"><rect x="355.2" y="131.2" width="220.8" height="68.1"/></clipPath>
<g clip-path="url(#c13)">
<polygon points="355.0,199.3 355.0,131.2 368.7,131.2 371.3,136.0 373.9,145.5 381.1,187.0 384.4,195.2 387.3,197.9 391.5,199.3" fill="#000" fill-opacity="0.25"/>
<polygon points="417.3,199.3 421.5,187.0 424.8,156.4 427.4,140.7 429.4,132.6 432.3,131.2 435.6,133.2 437.5,145.5 440.1,166.6 443.4,187.0 448.0,197.9 449.6,199.3 437.5,199.3 433.0,195.9 427.4,199.3" fill="#000" fill-opacity="0.25"/>
<polygon points="512.6,199.3 516.5,172.1 521.0,138.0 523.6,131.2 526.3,131.2 523.0,144.8 518.4,178.9 515.5,199.3" fill="#000" fill-opacity="0.25"/>
<line x1="511.58" y1="199.3" x2="511.58" y2="131.2" stroke="#000" stroke-width="2.8" stroke-dasharray="10.4 10.9"/>
<polyline points="355.0,142.8 356.0,140.9 356.6,140.1 357.6,139.6 358.3,139.4 359.5,139.5 361.0,140.4 362.8,142.1 364.1,144.1 365.4,146.9 366.4,149.8 367.4,153.8 369.7,164.1 374.1,185.4 375.3,190.5 376.5,194.5 377.5,197.2 378.2,198.3 379.1,198.9 380.1,199.2 381.1,199.3 420.2,199.3 421.2,199.1 421.9,198.6 422.5,198.0 423.5,196.6 423.8,195.2 426.0,171.4 427.5,158.7 429.1,145.5 429.7,142.8 430.7,140.2 431.3,139.4 432.3,138.8 433.0,138.7 433.3,138.8 433.6,139.1 434.6,141.2 435.9,145.5 436.6,148.8 437.5,156.4 438.2,163.4 440.1,192.5 441.0,196.1 441.5,197.5 442.1,198.3 443.4,199.0 444.7,199.3 513.5,199.3 513.8,199.0 514.3,197.1 515.2,191.8 516.5,180.9 518.6,165.2 520.4,148.6 521.7,139.3 522.0,137.4 522.7,134.8 523.3,132.9 524.0,131.9 525.0,131.3 525.6,131.2 571.9,131.2 572.5,131.3 573.9,132.1 574.5,132.3 580.1,133.2" fill="none" stroke="#111" stroke-width="2.7" stroke-linejoin="round"/>
</g>
<rect x="355.2" y="131.2" width="220.8" height="68.1" fill="none" stroke="#474747" stroke-width="1.05"/>
<text x="490.9" y="193.5" font-size="11.8" text-anchor="middle" fill="#1a1a1a">1998</text>
<line x1="351.8" y1="199.3" x2="355.2" y2="199.3" stroke="#151515" stroke-width="1.3"/>
<text x="349.8" y="203.6" font-size="10.7" text-anchor="end" fill="#2e2e2e" letter-spacing="0.6">0.0</text>
<line x1="351.8" y1="165.25" x2="355.2" y2="165.25" stroke="#151515" stroke-width="1.3"/>
<text x="349.8" y="169.55" font-size="10.7" text-anchor="end" fill="#2e2e2e" letter-spacing="0.6">0.5</text>
<line x1="351.8" y1="131.2" x2="355.2" y2="131.2" stroke="#151515" stroke-width="1.3"/>
<text x="349.8" y="135.5" font-size="10.7" text-anchor="end" fill="#2e2e2e" letter-spacing="0.6">1.0</text>
<rect x="355.6" y="217.3" width="104.8" height="16.6" fill="#fff" stroke="#474747" stroke-width="1.05"/>
<text x="408" y="227.55" font-size="6.1" text-anchor="middle" fill="#1a1a1a" style="stroke-width:0.12px">Trend 1</text>
<rect x="355.6" y="233.9" width="104.8" height="50.9" fill="#fff"/>
<line x1="371.35" y1="233.9" x2="371.35" y2="284.8" stroke="#e6e6e6" stroke-width="0.6"/>
<line x1="402.05" y1="233.9" x2="402.05" y2="284.8" stroke="#e6e6e6" stroke-width="0.6"/>
<line x1="432.75" y1="233.9" x2="432.75" y2="284.8" stroke="#e6e6e6" stroke-width="0.6"/>
<line x1="355.6" y1="272.07" x2="460.4" y2="272.07" stroke="#e6e6e6" stroke-width="0.6"/>
<line x1="355.6" y1="246.62" x2="460.4" y2="246.62" stroke="#e6e6e6" stroke-width="0.6"/>
<line x1="356" y1="233.9" x2="356" y2="284.8" stroke="#d9d9d9" stroke-width="1.0"/>
<line x1="386.7" y1="233.9" x2="386.7" y2="284.8" stroke="#d9d9d9" stroke-width="1.0"/>
<line x1="417.4" y1="233.9" x2="417.4" y2="284.8" stroke="#d9d9d9" stroke-width="1.0"/>
<line x1="448.1" y1="233.9" x2="448.1" y2="284.8" stroke="#d9d9d9" stroke-width="1.0"/>
<line x1="355.6" y1="259.35" x2="460.4" y2="259.35" stroke="#d9d9d9" stroke-width="1.0"/>
<clipPath id="c14"><rect x="355.6" y="233.9" width="104.8" height="50.9"/></clipPath>
<g clip-path="url(#c14)">
<line x1="405.12" y1="284.8" x2="405.12" y2="233.9" stroke="#000" stroke-width="2.8" stroke-dasharray="10.4 10.9"/>
<polyline points="354.5,284.8 405.6,284.8 406.0,282.0 409.0,240.5 409.6,235.5 409.9,234.1 410.0,233.9 461.9,233.9" fill="none" stroke="#111" stroke-width="2.7" stroke-linejoin="round"/>
</g>
<rect x="355.6" y="233.9" width="104.8" height="50.9" fill="none" stroke="#474747" stroke-width="1.05"/>
<line x1="355.6" y1="233.9" x2="460.4" y2="233.9" stroke="#262626" stroke-width="1.6"/>
<text x="422.2" y="278.5" font-size="11.8" text-anchor="middle" fill="#1a1a1a">1982</text>
<line x1="352.2" y1="284.8" x2="355.6" y2="284.8" stroke="#151515" stroke-width="1.3"/>
<text x="350.2" y="289.1" font-size="10.7" text-anchor="end" fill="#2e2e2e" letter-spacing="0.6">0.0</text>
<line x1="352.2" y1="259.35" x2="355.6" y2="259.35" stroke="#151515" stroke-width="1.3"/>
<text x="350.2" y="263.65" font-size="10.7" text-anchor="end" fill="#2e2e2e" letter-spacing="0.6">0.5</text>
<line x1="352.2" y1="233.9" x2="355.6" y2="233.9" stroke="#151515" stroke-width="1.3"/>
<text x="350.2" y="238.2" font-size="10.7" text-anchor="end" fill="#2e2e2e" letter-spacing="0.6">1.0</text>
<rect x="471.2" y="217.3" width="104.8" height="16.6" fill="#fff" stroke="#474747" stroke-width="1.05"/>
<text x="523.6" y="227.55" font-size="6.1" text-anchor="middle" fill="#1a1a1a" style="stroke-width:0.12px">Trend 2</text>
<rect x="471.2" y="233.9" width="104.8" height="50.9" fill="#fff"/>
<line x1="486.55" y1="233.9" x2="486.55" y2="284.8" stroke="#e6e6e6" stroke-width="0.6"/>
<line x1="517.25" y1="233.9" x2="517.25" y2="284.8" stroke="#e6e6e6" stroke-width="0.6"/>
<line x1="547.95" y1="233.9" x2="547.95" y2="284.8" stroke="#e6e6e6" stroke-width="0.6"/>
<line x1="471.2" y1="272.07" x2="576" y2="272.07" stroke="#e6e6e6" stroke-width="0.6"/>
<line x1="471.2" y1="246.62" x2="576" y2="246.62" stroke="#e6e6e6" stroke-width="0.6"/>
<line x1="501.9" y1="233.9" x2="501.9" y2="284.8" stroke="#d9d9d9" stroke-width="1.0"/>
<line x1="532.6" y1="233.9" x2="532.6" y2="284.8" stroke="#d9d9d9" stroke-width="1.0"/>
<line x1="563.3" y1="233.9" x2="563.3" y2="284.8" stroke="#d9d9d9" stroke-width="1.0"/>
<line x1="471.2" y1="259.35" x2="576" y2="259.35" stroke="#d9d9d9" stroke-width="1.0"/>
<clipPath id="c15"><rect x="471.2" y="233.9" width="104.8" height="50.9"/></clipPath>
<g clip-path="url(#c15)">
<polygon points="486.2,284.8 490.1,280.5 494.2,284.8" fill="#000" fill-opacity="0.25"/>
<line x1="509.57" y1="284.8" x2="509.57" y2="233.9" stroke="#000" stroke-width="2.8" stroke-dasharray="10.4 10.9"/>
<line x1="534.13" y1="284.8" x2="534.13" y2="233.9" stroke="#000" stroke-width="2.8" stroke-dasharray="10.4 10.9"/>
<polyline points="469.7,284.8 511.4,284.8 511.7,283.7 512.3,278.1 513.3,259.4 514.3,243.1 515.3,236.0 515.8,234.5 516.1,234.1 516.3,233.9 534.4,233.9 534.6,234.0 535.5,237.2 536.3,242.9 539.2,280.2 539.5,282.8 539.9,284.4 540.1,284.8 577.1,284.8" fill="none" stroke="#111" stroke-width="2.7" stroke-linejoin="round"/>
</g>
<rect x="471.2" y="233.9" width="104.8" height="50.9" fill="none" stroke="#474747" stroke-width="1.05"/>
<line x1="471.2" y1="233.9" x2="576" y2="233.9" stroke="#262626" stroke-width="1.6"/>
<text x="491.5" y="278.2" font-size="11.8" text-anchor="middle" fill="#1a1a1a">1975</text>
<text x="557.7" y="278.2" font-size="11.8" text-anchor="middle" fill="#1a1a1a">1991</text>
<rect x="355.2" y="302.1" width="220.8" height="68.2" fill="#fff"/>
<line x1="387.62" y1="302.1" x2="387.62" y2="370.3" stroke="#e6e6e6" stroke-width="0.6"/>
<line x1="452.86" y1="302.1" x2="452.86" y2="370.3" stroke="#e6e6e6" stroke-width="0.6"/>
<line x1="518.1" y1="302.1" x2="518.1" y2="370.3" stroke="#e6e6e6" stroke-width="0.6"/>
<line x1="355.2" y1="353.25" x2="576" y2="353.25" stroke="#e6e6e6" stroke-width="0.6"/>
<line x1="355.2" y1="319.15" x2="576" y2="319.15" stroke="#e6e6e6" stroke-width="0.6"/>
<line x1="420.24" y1="302.1" x2="420.24" y2="370.3" stroke="#d9d9d9" stroke-width="1.0"/>
<line x1="485.48" y1="302.1" x2="485.48" y2="370.3" stroke="#d9d9d9" stroke-width="1.0"/>
<line x1="550.72" y1="302.1" x2="550.72" y2="370.3" stroke="#d9d9d9" stroke-width="1.0"/>
<line x1="355.2" y1="336.2" x2="576" y2="336.2" stroke="#d9d9d9" stroke-width="1.0"/>
<clipPath id="c16"><rect x="355.2" y="302.1" width="220.8" height="68.2"/></clipPath>
<g clip-path="url(#c16)">
<polygon points="424.3,302.1 426.3,315.7 430.2,356.7 432.1,366.9 434.8,370.3 431.5,370.3 429.2,356.7 425.3,315.7 423.7,302.1" fill="#000" fill-opacity="0.25"/>
<line x1="420.24" y1="370.3" x2="420.24" y2="302.1" stroke="#000" stroke-width="2.8" stroke-dasharray="10.4 10.9"/>
<polyline points="351.7,302.1 421.7,302.1 422.0,302.3 423.0,304.1 423.6,306.3 424.4,311.6 425.3,318.5 426.9,336.2 428.2,353.1 429.3,363.9 429.6,365.7 430.2,367.8 430.8,369.3 431.2,369.7 431.8,370.1 433.5,370.3 580.1,370.3" fill="none" stroke="#111" stroke-width="2.7" stroke-linejoin="round"/>
</g>
<rect x="355.2" y="302.1" width="220.8" height="68.2" fill="none" stroke="#474747" stroke-width="1.05"/>
<text x="402.4" y="361.6" font-size="11.8" text-anchor="middle" fill="#1a1a1a">1970</text>
<line x1="351.8" y1="370.3" x2="355.2" y2="370.3" stroke="#151515" stroke-width="1.3"/>
<text x="349.8" y="374.6" font-size="10.7" text-anchor="end" fill="#2e2e2e" letter-spacing="0.6">0.0</text>
<line x1="351.8" y1="336.2" x2="355.2" y2="336.2" stroke="#151515" stroke-width="1.3"/>
<text x="349.8" y="340.5" font-size="10.7" text-anchor="end" fill="#2e2e2e" letter-spacing="0.6">0.5</text>
<line x1="351.8" y1="302.1" x2="355.2" y2="302.1" stroke="#151515" stroke-width="1.3"/>
<text x="349.8" y="306.4" font-size="10.7" text-anchor="end" fill="#2e2e2e" letter-spacing="0.6">1.0</text>
<rect x="355.2" y="387.5" width="220.8" height="68.5" fill="#fff"/>
<line x1="387.62" y1="387.5" x2="387.62" y2="456" stroke="#e6e6e6" stroke-width="0.6"/>
<line x1="452.86" y1="387.5" x2="452.86" y2="456" stroke="#e6e6e6" stroke-width="0.6"/>
<line x1="518.1" y1="387.5" x2="518.1" y2="456" stroke="#e6e6e6" stroke-width="0.6"/>
<line x1="355.2" y1="438.88" x2="576" y2="438.88" stroke="#e6e6e6" stroke-width="0.6"/>
<line x1="355.2" y1="404.62" x2="576" y2="404.62" stroke="#e6e6e6" stroke-width="0.6"/>
<line x1="420.24" y1="387.5" x2="420.24" y2="456" stroke="#d9d9d9" stroke-width="1.0"/>
<line x1="485.48" y1="387.5" x2="485.48" y2="456" stroke="#d9d9d9" stroke-width="1.0"/>
<line x1="550.72" y1="387.5" x2="550.72" y2="456" stroke="#d9d9d9" stroke-width="1.0"/>
<line x1="355.2" y1="421.75" x2="576" y2="421.75" stroke="#d9d9d9" stroke-width="1.0"/>
<clipPath id="c17"><rect x="355.2" y="387.5" width="220.8" height="68.5"/></clipPath>
<g clip-path="url(#c17)">
<line x1="430.03" y1="456" x2="430.03" y2="387.5" stroke="#000" stroke-width="2.8" stroke-dasharray="10.4 10.9"/>
<polyline points="351.7,456.0 432.0,456.0 432.2,455.4 432.5,454.0 434.6,438.9 436.9,414.2 438.9,397.0 439.8,390.9 440.1,389.6 440.9,387.9 441.4,387.5 580.1,387.5" fill="none" stroke="#111" stroke-width="2.7" stroke-linejoin="round"/>
</g>
<rect x="355.2" y="387.5" width="220.8" height="68.5" fill="none" stroke="#474747" stroke-width="1.05"/>
<text x="453.2" y="450.4" font-size="11.8" text-anchor="middle" fill="#1a1a1a">1973</text>
<line x1="351.8" y1="456" x2="355.2" y2="456" stroke="#151515" stroke-width="1.3"/>
<text x="349.8" y="460.3" font-size="10.7" text-anchor="end" fill="#2e2e2e" letter-spacing="0.6">0.0</text>
<line x1="351.8" y1="421.75" x2="355.2" y2="421.75" stroke="#151515" stroke-width="1.3"/>
<text x="349.8" y="426.05" font-size="10.7" text-anchor="end" fill="#2e2e2e" letter-spacing="0.6">0.5</text>
<line x1="351.8" y1="387.5" x2="355.2" y2="387.5" stroke="#151515" stroke-width="1.3"/>
<text x="349.8" y="391.8" font-size="10.7" text-anchor="end" fill="#2e2e2e" letter-spacing="0.6">1.0</text>
<rect x="355.2" y="479.2" width="220.8" height="69.5" fill="#fff"/>
<line x1="387.62" y1="479.2" x2="387.62" y2="548.7" stroke="#e6e6e6" stroke-width="0.6"/>
<line x1="452.86" y1="479.2" x2="452.86" y2="548.7" stroke="#e6e6e6" stroke-width="0.6"/>
<line x1="518.1" y1="479.2" x2="518.1" y2="548.7" stroke="#e6e6e6" stroke-width="0.6"/>
<line x1="355.2" y1="531.33" x2="576" y2="531.33" stroke="#e6e6e6" stroke-width="0.6"/>
<line x1="355.2" y1="496.57" x2="576" y2="496.57" stroke="#e6e6e6" stroke-width="0.6"/>
<line x1="420.24" y1="479.2" x2="420.24" y2="548.7" stroke="#d9d9d9" stroke-width="1.0"/>
<line x1="485.48" y1="479.2" x2="485.48" y2="548.7" stroke="#d9d9d9" stroke-width="1.0"/>
<line x1="550.72" y1="479.2" x2="550.72" y2="548.7" stroke="#d9d9d9" stroke-width="1.0"/>
<line x1="355.2" y1="513.95" x2="576" y2="513.95" stroke="#d9d9d9" stroke-width="1.0"/>
<clipPath id="c18"><rect x="355.2" y="479.2" width="220.8" height="69.5"/></clipPath>
<g clip-path="url(#c18)">
<polygon points="448.6,479.2 449.6,488.2 452.5,502.1 455.1,516.7 458.1,545.2 459.1,548.7 465.6,548.7 464.3,545.2 461.7,516.7 460.0,496.6 459.1,488.2 457.4,479.2" fill="#000" fill-opacity="0.25"/>
<line x1="449.6" y1="548.7" x2="449.6" y2="479.2" stroke="#000" stroke-width="2.8" stroke-dasharray="10.4 10.9"/>
<polyline points="351.7,479.2 452.2,479.2 452.8,479.4 453.3,480.0 454.2,481.3 454.8,482.9 455.8,486.8 456.7,491.1 458.7,504.3 460.0,514.0 460.6,519.4 462.1,535.6 462.6,540.4 463.7,545.9 464.0,546.6 464.6,547.7 465.6,548.6 580.1,548.7" fill="none" stroke="#111" stroke-width="2.7" stroke-linejoin="round"/>
</g>
<rect x="355.2" y="479.2" width="220.8" height="69.5" fill="none" stroke="#474747" stroke-width="1.05"/>
<text x="433.7" y="543.9" font-size="11.8" text-anchor="middle" fill="#1a1a1a">1979</text>
<line x1="351.8" y1="548.7" x2="355.2" y2="548.7" stroke="#151515" stroke-width="1.3"/>
<text x="349.8" y="553" font-size="10.7" text-anchor="end" fill="#2e2e2e" letter-spacing="0.6">0.0</text>
<line x1="351.8" y1="513.95" x2="355.2" y2="513.95" stroke="#151515" stroke-width="1.3"/>
<text x="349.8" y="518.25" font-size="10.7" text-anchor="end" fill="#2e2e2e" letter-spacing="0.6">0.5</text>
<line x1="351.8" y1="479.2" x2="355.2" y2="479.2" stroke="#151515" stroke-width="1.3"/>
<text x="349.8" y="483.5" font-size="10.7" text-anchor="end" fill="#2e2e2e" letter-spacing="0.6">1.0</text>
<rect x="355.6" y="559.3" width="104.8" height="17" fill="#fff" stroke="#474747" stroke-width="1.05"/>
<text x="408" y="569.75" font-size="6.1" text-anchor="middle" fill="#1a1a1a" style="stroke-width:0.12px">Trend 1</text>
<rect x="355.6" y="576.3" width="104.8" height="50.9" fill="#fff"/>
<line x1="371.35" y1="576.3" x2="371.35" y2="627.2" stroke="#e6e6e6" stroke-width="0.6"/>
<line x1="402.05" y1="576.3" x2="402.05" y2="627.2" stroke="#e6e6e6" stroke-width="0.6"/>
<line x1="432.75" y1="576.3" x2="432.75" y2="627.2" stroke="#e6e6e6" stroke-width="0.6"/>
<line x1="355.6" y1="614.48" x2="460.4" y2="614.48" stroke="#e6e6e6" stroke-width="0.6"/>
<line x1="355.6" y1="589.02" x2="460.4" y2="589.02" stroke="#e6e6e6" stroke-width="0.6"/>
<line x1="356" y1="576.3" x2="356" y2="627.2" stroke="#d9d9d9" stroke-width="1.0"/>
<line x1="386.7" y1="576.3" x2="386.7" y2="627.2" stroke="#d9d9d9" stroke-width="1.0"/>
<line x1="417.4" y1="576.3" x2="417.4" y2="627.2" stroke="#d9d9d9" stroke-width="1.0"/>
<line x1="448.1" y1="576.3" x2="448.1" y2="627.2" stroke="#d9d9d9" stroke-width="1.0"/>
<line x1="355.6" y1="601.75" x2="460.4" y2="601.75" stroke="#d9d9d9" stroke-width="1.0"/>
<clipPath id="c19"><rect x="355.6" y="576.3" width="104.8" height="50.9"/></clipPath>
<g clip-path="url(#c19)">
<line x1="397.44" y1="627.2" x2="397.44" y2="576.3" stroke="#000" stroke-width="2.8" stroke-dasharray="10.4 10.9"/>
<polyline points="354.5,627.2 397.6,627.2 397.9,625.4 398.6,616.0 400.8,583.9 401.6,577.9 401.9,577.0 402.4,576.4 461.9,576.3" fill="none" stroke="#111" stroke-width="2.7" stroke-linejoin="round"/>
</g>
<rect x="355.6" y="576.3" width="104.8" height="50.9" fill="none" stroke="#474747" stroke-width="1.05"/>
<line x1="355.6" y1="576.3" x2="460.4" y2="576.3" stroke="#262626" stroke-width="1.6"/>
<text x="382.7" y="621.4" font-size="11.8" text-anchor="middle" fill="#1a1a1a">1977</text>
<line x1="352.2" y1="627.2" x2="355.6" y2="627.2" stroke="#151515" stroke-width="1.3"/>
<text x="350.2" y="631.5" font-size="10.7" text-anchor="end" fill="#2e2e2e" letter-spacing="0.6">0.0</text>
<line x1="352.2" y1="601.75" x2="355.6" y2="601.75" stroke="#151515" stroke-width="1.3"/>
<text x="350.2" y="606.05" font-size="10.7" text-anchor="end" fill="#2e2e2e" letter-spacing="0.6">0.5</text>
<line x1="352.2" y1="576.3" x2="355.6" y2="576.3" stroke="#151515" stroke-width="1.3"/>
<text x="350.2" y="580.6" font-size="10.7" text-anchor="end" fill="#2e2e2e" letter-spacing="0.6">1.0</text>
<rect x="471.2" y="559.3" width="104.8" height="17" fill="#fff" stroke="#474747" stroke-width="1.05"/>
<text x="523.6" y="569.75" font-size="6.1" text-anchor="middle" fill="#1a1a1a" style="stroke-width:0.12px">Trend 2</text>
<rect x="471.2" y="576.3" width="104.8" height="50.9" fill="#fff"/>
<line x1="486.55" y1="576.3" x2="486.55" y2="627.2" stroke="#e6e6e6" stroke-width="0.6"/>
<line x1="517.25" y1="576.3" x2="517.25" y2="627.2" stroke="#e6e6e6" stroke-width="0.6"/>
<line x1="547.95" y1="576.3" x2="547.95" y2="627.2" stroke="#e6e6e6" stroke-width="0.6"/>
<line x1="471.2" y1="614.48" x2="576" y2="614.48" stroke="#e6e6e6" stroke-width="0.6"/>
<line x1="471.2" y1="589.02" x2="576" y2="589.02" stroke="#e6e6e6" stroke-width="0.6"/>
<line x1="501.9" y1="576.3" x2="501.9" y2="627.2" stroke="#d9d9d9" stroke-width="1.0"/>
<line x1="532.6" y1="576.3" x2="532.6" y2="627.2" stroke="#d9d9d9" stroke-width="1.0"/>
<line x1="563.3" y1="576.3" x2="563.3" y2="627.2" stroke="#d9d9d9" stroke-width="1.0"/>
<line x1="471.2" y1="601.75" x2="576" y2="601.75" stroke="#d9d9d9" stroke-width="1.0"/>
<clipPath id="c20"><rect x="471.2" y="576.3" width="104.8" height="50.9"/></clipPath>
<g clip-path="url(#c20)">
<polygon points="469.7,627.2 469.7,576.3 482.6,576.3 482.6,627.2" fill="#000" fill-opacity="0.25"/>
<line x1="483.48" y1="627.2" x2="483.48" y2="576.3" stroke="#000" stroke-width="2.8" stroke-dasharray="10.4 10.9"/>
<line x1="509.57" y1="627.2" x2="509.57" y2="576.3" stroke="#000" stroke-width="2.8" stroke-dasharray="10.4 10.9"/>
<polyline points="469.7,576.3 483.8,576.3 484.1,578.5 484.4,582.8 485.8,618.5 486.2,625.0 486.6,627.2 510.3,627.2 510.6,624.0 511.9,599.4 512.8,583.8 513.6,577.8 513.9,577.0 514.3,576.4 577.1,576.3" fill="none" stroke="#111" stroke-width="2.7" stroke-linejoin="round"/>
</g>
<rect x="471.2" y="576.3" width="104.8" height="50.9" fill="none" stroke="#474747" stroke-width="1.05"/>
<line x1="471.2" y1="576.3" x2="576" y2="576.3" stroke="#262626" stroke-width="1.6"/>
<text x="498.2" y="591.8" font-size="11.8" text-anchor="middle" fill="#1a1a1a">1958</text>
<text x="528.7" y="622.3" font-size="11.8" text-anchor="middle" fill="#1a1a1a">1975</text>
<rect x="355.6" y="644.9" width="104.8" height="16.7" fill="#fff" stroke="#474747" stroke-width="1.05"/>
<text x="408" y="655.2" font-size="6.1" text-anchor="middle" fill="#1a1a1a" style="stroke-width:0.12px">Trend 1</text>
<rect x="355.6" y="661.6" width="104.8" height="51" fill="#fff"/>
<line x1="371.35" y1="661.6" x2="371.35" y2="712.6" stroke="#e6e6e6" stroke-width="0.6"/>
<line x1="402.05" y1="661.6" x2="402.05" y2="712.6" stroke="#e6e6e6" stroke-width="0.6"/>
<line x1="432.75" y1="661.6" x2="432.75" y2="712.6" stroke="#e6e6e6" stroke-width="0.6"/>
<line x1="355.6" y1="699.85" x2="460.4" y2="699.85" stroke="#e6e6e6" stroke-width="0.6"/>
<line x1="355.6" y1="674.35" x2="460.4" y2="674.35" stroke="#e6e6e6" stroke-width="0.6"/>
<line x1="356" y1="661.6" x2="356" y2="712.6" stroke="#d9d9d9" stroke-width="1.0"/>
<line x1="386.7" y1="661.6" x2="386.7" y2="712.6" stroke="#d9d9d9" stroke-width="1.0"/>
<line x1="417.4" y1="661.6" x2="417.4" y2="712.6" stroke="#d9d9d9" stroke-width="1.0"/>
<line x1="448.1" y1="661.6" x2="448.1" y2="712.6" stroke="#d9d9d9" stroke-width="1.0"/>
<line x1="355.6" y1="687.1" x2="460.4" y2="687.1" stroke="#d9d9d9" stroke-width="1.0"/>
<clipPath id="c21"><rect x="355.6" y="661.6" width="104.8" height="51"/></clipPath>
<g clip-path="url(#c21)">
<polygon points="377.5,712.6 379.8,671.8 380.9,661.6 394.8,661.6 394.4,671.8 392.7,689.4 390.5,707.0 389.6,712.6" fill="#000" fill-opacity="0.25"/>
<polygon points="432.8,661.6 434.4,680.5 435.8,698.3 437.5,712.6 461.9,712.6 461.9,661.6" fill="#000" fill-opacity="0.25"/>
<line x1="375.95" y1="712.6" x2="375.95" y2="661.6" stroke="#000" stroke-width="2.8" stroke-dasharray="10.4 10.9"/>
<polyline points="354.5,712.6 376.6,712.6 376.9,710.9 377.6,700.2 379.7,667.9 380.3,663.8 380.6,662.6 381.1,661.7 461.9,661.6" fill="none" stroke="#111" stroke-width="2.7" stroke-linejoin="round"/>
</g>
<rect x="355.6" y="661.6" width="104.8" height="51" fill="none" stroke="#474747" stroke-width="1.05"/>
<line x1="355.6" y1="661.6" x2="460.4" y2="661.6" stroke="#262626" stroke-width="1.6"/>
<text x="395" y="706.3" font-size="11.8" text-anchor="middle" fill="#1a1a1a">1963</text>
<line x1="352.2" y1="712.6" x2="355.6" y2="712.6" stroke="#151515" stroke-width="1.3"/>
<text x="350.2" y="716.9" font-size="10.7" text-anchor="end" fill="#2e2e2e" letter-spacing="0.6">0.0</text>
<line x1="352.2" y1="687.1" x2="355.6" y2="687.1" stroke="#151515" stroke-width="1.3"/>
<text x="350.2" y="691.4" font-size="10.7" text-anchor="end" fill="#2e2e2e" letter-spacing="0.6">0.5</text>
<line x1="352.2" y1="661.6" x2="355.6" y2="661.6" stroke="#151515" stroke-width="1.3"/>
<text x="350.2" y="665.9" font-size="10.7" text-anchor="end" fill="#2e2e2e" letter-spacing="0.6">1.0</text>
<text x="356" y="723.8" font-size="9.2" text-anchor="middle" fill="#2e2e2e">1950</text>
<text x="386.7" y="723.8" font-size="9.2" text-anchor="middle" fill="#2e2e2e">1970</text>
<text x="417.4" y="723.8" font-size="9.2" text-anchor="middle" fill="#2e2e2e">1990</text>
<text x="448.1" y="723.8" font-size="9.2" text-anchor="middle" fill="#2e2e2e">2010</text>
<rect x="471.2" y="644.9" width="104.8" height="16.7" fill="#fff" stroke="#474747" stroke-width="1.05"/>
<text x="523.6" y="655.2" font-size="6.1" text-anchor="middle" fill="#1a1a1a" style="stroke-width:0.12px">Trend 2</text>
<rect x="471.2" y="661.6" width="104.8" height="51" fill="#fff"/>
<line x1="486.55" y1="661.6" x2="486.55" y2="712.6" stroke="#e6e6e6" stroke-width="0.6"/>
<line x1="517.25" y1="661.6" x2="517.25" y2="712.6" stroke="#e6e6e6" stroke-width="0.6"/>
<line x1="547.95" y1="661.6" x2="547.95" y2="712.6" stroke="#e6e6e6" stroke-width="0.6"/>
<line x1="471.2" y1="699.85" x2="576" y2="699.85" stroke="#e6e6e6" stroke-width="0.6"/>
<line x1="471.2" y1="674.35" x2="576" y2="674.35" stroke="#e6e6e6" stroke-width="0.6"/>
<line x1="501.9" y1="661.6" x2="501.9" y2="712.6" stroke="#d9d9d9" stroke-width="1.0"/>
<line x1="532.6" y1="661.6" x2="532.6" y2="712.6" stroke="#d9d9d9" stroke-width="1.0"/>
<line x1="563.3" y1="661.6" x2="563.3" y2="712.6" stroke="#d9d9d9" stroke-width="1.0"/>
<line x1="471.2" y1="687.1" x2="576" y2="687.1" stroke="#d9d9d9" stroke-width="1.0"/>
<clipPath id="c22"><rect x="471.2" y="661.6" width="104.8" height="51"/></clipPath>
<g clip-path="url(#c22)">
<line x1="532.6" y1="712.6" x2="532.6" y2="661.6" stroke="#000" stroke-width="2.8" stroke-dasharray="10.4 10.9"/>
<polyline points="469.7,661.6 533.5,661.6 533.9,663.4 534.4,669.6 536.4,705.9 537.1,710.9 537.2,711.7 537.5,712.3 538.0,712.6 577.1,712.6" fill="none" stroke="#111" stroke-width="2.7" stroke-linejoin="round"/>
</g>
<rect x="471.2" y="661.6" width="104.8" height="51" fill="none" stroke="#474747" stroke-width="1.05"/>
<line x1="471.2" y1="661.6" x2="576" y2="661.6" stroke="#262626" stroke-width="1.6"/>
<text x="513.8" y="707.3" font-size="11.8" text-anchor="middle" fill="#1a1a1a">1990</text>
<text x="471.2" y="723.8" font-size="9.2" text-anchor="middle" fill="#2e2e2e">1950</text>
<text x="501.9" y="723.8" font-size="9.2" text-anchor="middle" fill="#2e2e2e">1970</text>
<text x="532.6" y="723.8" font-size="9.2" text-anchor="middle" fill="#2e2e2e">1990</text>
<text x="563.3" y="723.8" font-size="9.2" text-anchor="middle" fill="#2e2e2e">2010</text>
</svg>
</body></html>
